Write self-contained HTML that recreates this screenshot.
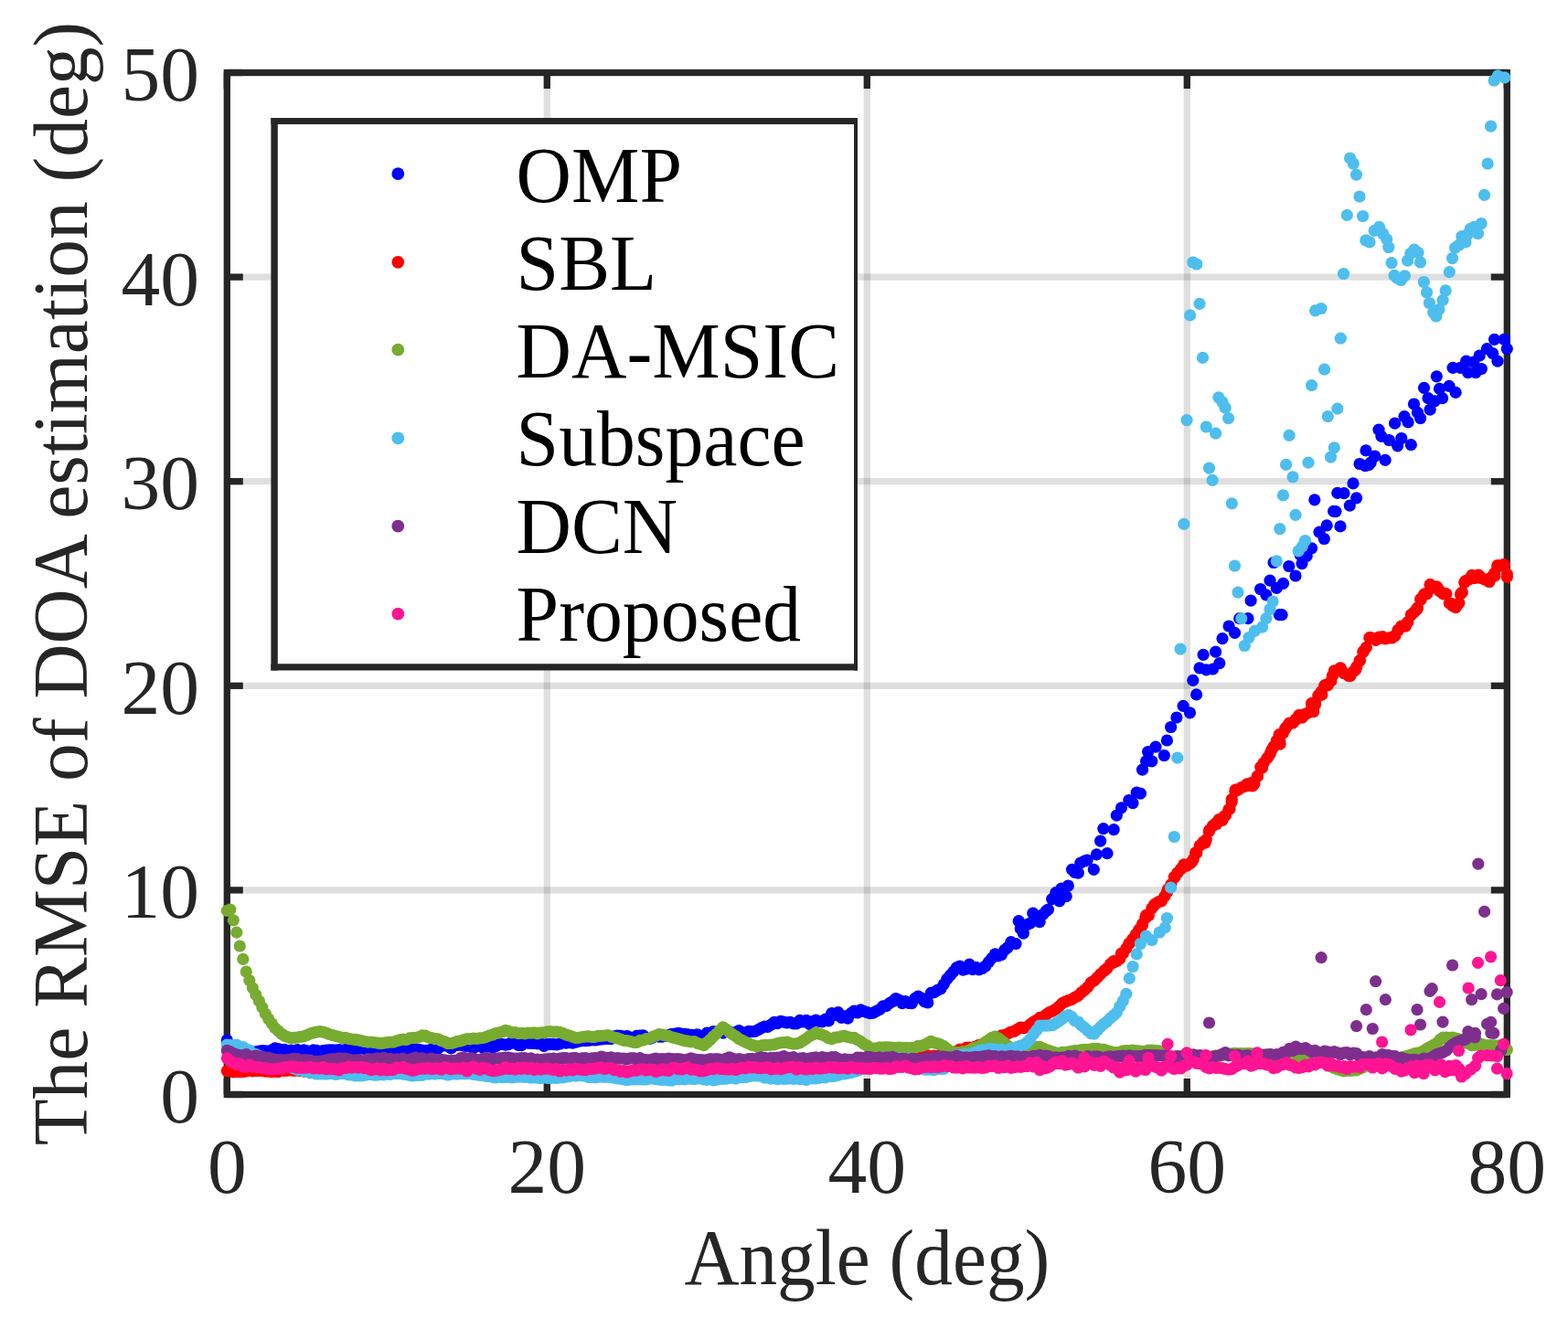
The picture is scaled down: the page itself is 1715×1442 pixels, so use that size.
<!DOCTYPE html><html><head><meta charset="utf-8"><style>html,body{margin:0;padding:0;background:#fff;overflow:hidden}svg{display:block}text{font-family:'Liberation Serif','Times New Roman',serif}</style></head><body>
<svg width="1715" height="1442" viewBox="0 0 1715 1442">
<rect width="1715" height="1442" fill="#fff"/>
<g stroke="#262626" stroke-opacity="0.15" stroke-width="7.3" fill="none"><path d="M598.30 79.50V1197.50"/><path d="M948.30 79.50V1197.50"/><path d="M1298.30 79.50V1197.50"/><path d="M248.30 973.90H1648.30"/><path d="M248.30 750.30H1648.30"/><path d="M248.30 526.70H1648.30"/><path d="M248.30 303.10H1648.30"/></g>
<g stroke="#262626" stroke-width="7.3" fill="none" stroke-linecap="butt"><path d="M248.30 1197.50v-17.5"/><path d="M248.30 79.50v17.5"/><path d="M598.30 1197.50v-17.5"/><path d="M598.30 79.50v17.5"/><path d="M948.30 1197.50v-17.5"/><path d="M948.30 79.50v17.5"/><path d="M1298.30 1197.50v-17.5"/><path d="M1298.30 79.50v17.5"/><path d="M1648.30 1197.50v-17.5"/><path d="M1648.30 79.50v17.5"/><path d="M248.30 1197.50h17.5"/><path d="M1648.30 1197.50h-17.5"/><path d="M248.30 973.90h17.5"/><path d="M1648.30 973.90h-17.5"/><path d="M248.30 750.30h17.5"/><path d="M1648.30 750.30h-17.5"/><path d="M248.30 526.70h17.5"/><path d="M1648.30 526.70h-17.5"/><path d="M248.30 303.10h17.5"/><path d="M1648.30 303.10h-17.5"/><path d="M248.30 79.50h17.5"/><path d="M1648.30 79.50h-17.5"/><rect x="248.30" y="79.50" width="1400.00" height="1118.00" stroke-linejoin="miter"/></g>
<g fill="#0000ff"><circle cx="1116.3" cy="1016.1" r="6.6"/><circle cx="1123.3" cy="1011.7" r="6.6"/><circle cx="1126.8" cy="1010.0" r="6.6"/><circle cx="1133.8" cy="1002.2" r="6.6"/><circle cx="1140.8" cy="1000.4" r="6.6"/><circle cx="1144.3" cy="996.7" r="6.6"/><circle cx="1154.8" cy="976.6" r="6.6"/><circle cx="1179.3" cy="955.1" r="6.6"/><circle cx="1186.3" cy="942.0" r="6.6"/><circle cx="248.3" cy="1138.0" r="6.6"/><circle cx="251.8" cy="1146.1" r="6.6"/><circle cx="255.3" cy="1149.0" r="6.6"/><circle cx="258.8" cy="1151.3" r="6.6"/><circle cx="262.3" cy="1150.0" r="6.6"/><circle cx="265.8" cy="1153.4" r="6.6"/><circle cx="269.3" cy="1153.0" r="6.6"/><circle cx="272.8" cy="1151.7" r="6.6"/><circle cx="276.3" cy="1151.1" r="6.6"/><circle cx="279.8" cy="1150.8" r="6.6"/><circle cx="283.3" cy="1150.0" r="6.6"/><circle cx="286.8" cy="1149.5" r="6.6"/><circle cx="290.3" cy="1149.9" r="6.6"/><circle cx="293.8" cy="1150.2" r="6.6"/><circle cx="297.3" cy="1148.8" r="6.6"/><circle cx="300.8" cy="1146.8" r="6.6"/><circle cx="304.3" cy="1147.7" r="6.6"/><circle cx="307.8" cy="1148.5" r="6.6"/><circle cx="311.3" cy="1148.4" r="6.6"/><circle cx="314.8" cy="1150.1" r="6.6"/><circle cx="318.3" cy="1149.2" r="6.6"/><circle cx="321.8" cy="1150.4" r="6.6"/><circle cx="325.3" cy="1148.6" r="6.6"/><circle cx="328.8" cy="1150.9" r="6.6"/><circle cx="332.3" cy="1148.8" r="6.6"/><circle cx="335.8" cy="1149.9" r="6.6"/><circle cx="339.3" cy="1150.7" r="6.6"/><circle cx="342.8" cy="1148.8" r="6.6"/><circle cx="346.3" cy="1149.4" r="6.6"/><circle cx="349.8" cy="1150.4" r="6.6"/><circle cx="353.3" cy="1149.7" r="6.6"/><circle cx="356.8" cy="1149.2" r="6.6"/><circle cx="360.3" cy="1148.8" r="6.6"/><circle cx="363.8" cy="1148.8" r="6.6"/><circle cx="367.3" cy="1149.2" r="6.6"/><circle cx="370.8" cy="1148.5" r="6.6"/><circle cx="374.3" cy="1149.2" r="6.6"/><circle cx="377.8" cy="1148.7" r="6.6"/><circle cx="381.3" cy="1148.3" r="6.6"/><circle cx="384.8" cy="1149.1" r="6.6"/><circle cx="388.3" cy="1150.9" r="6.6"/><circle cx="391.8" cy="1147.4" r="6.6"/><circle cx="395.3" cy="1146.8" r="6.6"/><circle cx="398.8" cy="1147.5" r="6.6"/><circle cx="402.3" cy="1146.7" r="6.6"/><circle cx="405.8" cy="1144.9" r="6.6"/><circle cx="409.3" cy="1149.2" r="6.6"/><circle cx="412.8" cy="1147.3" r="6.6"/><circle cx="416.3" cy="1146.6" r="6.6"/><circle cx="419.8" cy="1150.0" r="6.6"/><circle cx="423.3" cy="1149.2" r="6.6"/><circle cx="426.8" cy="1147.8" r="6.6"/><circle cx="430.3" cy="1150.1" r="6.6"/><circle cx="433.8" cy="1148.4" r="6.6"/><circle cx="437.3" cy="1148.8" r="6.6"/><circle cx="440.8" cy="1150.4" r="6.6"/><circle cx="444.3" cy="1149.0" r="6.6"/><circle cx="447.8" cy="1147.5" r="6.6"/><circle cx="451.3" cy="1147.3" r="6.6"/><circle cx="454.8" cy="1147.9" r="6.6"/><circle cx="458.3" cy="1148.4" r="6.6"/><circle cx="461.8" cy="1149.0" r="6.6"/><circle cx="465.3" cy="1149.4" r="6.6"/><circle cx="468.8" cy="1149.0" r="6.6"/><circle cx="472.3" cy="1148.2" r="6.6"/><circle cx="475.8" cy="1147.1" r="6.6"/><circle cx="479.3" cy="1147.1" r="6.6"/><circle cx="482.8" cy="1143.3" r="6.6"/><circle cx="486.3" cy="1143.8" r="6.6"/><circle cx="489.8" cy="1143.8" r="6.6"/><circle cx="493.3" cy="1146.9" r="6.6"/><circle cx="496.8" cy="1143.6" r="6.6"/><circle cx="500.3" cy="1143.4" r="6.6"/><circle cx="503.8" cy="1143.1" r="6.6"/><circle cx="507.3" cy="1144.2" r="6.6"/><circle cx="510.8" cy="1144.3" r="6.6"/><circle cx="514.3" cy="1143.6" r="6.6"/><circle cx="517.8" cy="1146.9" r="6.6"/><circle cx="521.3" cy="1143.5" r="6.6"/><circle cx="524.8" cy="1144.2" r="6.6"/><circle cx="528.3" cy="1146.3" r="6.6"/><circle cx="531.8" cy="1144.7" r="6.6"/><circle cx="535.3" cy="1142.7" r="6.6"/><circle cx="538.8" cy="1145.8" r="6.6"/><circle cx="542.3" cy="1144.6" r="6.6"/><circle cx="545.8" cy="1142.5" r="6.6"/><circle cx="549.3" cy="1142.5" r="6.6"/><circle cx="552.8" cy="1143.2" r="6.6"/><circle cx="556.3" cy="1142.6" r="6.6"/><circle cx="559.8" cy="1140.5" r="6.6"/><circle cx="563.3" cy="1141.1" r="6.6"/><circle cx="566.8" cy="1143.3" r="6.6"/><circle cx="570.3" cy="1143.7" r="6.6"/><circle cx="573.8" cy="1140.6" r="6.6"/><circle cx="577.3" cy="1141.2" r="6.6"/><circle cx="580.8" cy="1141.4" r="6.6"/><circle cx="584.3" cy="1141.4" r="6.6"/><circle cx="587.8" cy="1141.9" r="6.6"/><circle cx="591.3" cy="1141.5" r="6.6"/><circle cx="594.8" cy="1144.3" r="6.6"/><circle cx="598.3" cy="1142.6" r="6.6"/><circle cx="601.8" cy="1142.4" r="6.6"/><circle cx="605.3" cy="1142.7" r="6.6"/><circle cx="608.8" cy="1142.8" r="6.6"/><circle cx="612.3" cy="1142.0" r="6.6"/><circle cx="615.8" cy="1140.6" r="6.6"/><circle cx="619.3" cy="1141.1" r="6.6"/><circle cx="622.8" cy="1140.7" r="6.6"/><circle cx="626.3" cy="1141.2" r="6.6"/><circle cx="629.8" cy="1140.2" r="6.6"/><circle cx="633.3" cy="1139.1" r="6.6"/><circle cx="636.8" cy="1138.6" r="6.6"/><circle cx="640.3" cy="1138.6" r="6.6"/><circle cx="643.8" cy="1138.3" r="6.6"/><circle cx="647.3" cy="1137.7" r="6.6"/><circle cx="650.8" cy="1138.0" r="6.6"/><circle cx="654.3" cy="1137.4" r="6.6"/><circle cx="657.8" cy="1137.0" r="6.6"/><circle cx="661.3" cy="1136.5" r="6.6"/><circle cx="664.8" cy="1136.3" r="6.6"/><circle cx="668.3" cy="1136.6" r="6.6"/><circle cx="671.8" cy="1133.9" r="6.6"/><circle cx="675.3" cy="1133.0" r="6.6"/><circle cx="678.8" cy="1133.4" r="6.6"/><circle cx="682.3" cy="1134.2" r="6.6"/><circle cx="685.8" cy="1133.5" r="6.6"/><circle cx="689.3" cy="1135.0" r="6.6"/><circle cx="692.8" cy="1135.8" r="6.6"/><circle cx="696.3" cy="1133.4" r="6.6"/><circle cx="699.8" cy="1133.1" r="6.6"/><circle cx="703.3" cy="1132.9" r="6.6"/><circle cx="706.8" cy="1135.5" r="6.6"/><circle cx="710.3" cy="1136.5" r="6.6"/><circle cx="713.8" cy="1135.1" r="6.6"/><circle cx="717.3" cy="1133.5" r="6.6"/><circle cx="720.8" cy="1134.1" r="6.6"/><circle cx="724.3" cy="1134.1" r="6.6"/><circle cx="727.8" cy="1133.5" r="6.6"/><circle cx="731.3" cy="1132.7" r="6.6"/><circle cx="734.8" cy="1131.4" r="6.6"/><circle cx="738.3" cy="1131.1" r="6.6"/><circle cx="741.8" cy="1130.4" r="6.6"/><circle cx="745.3" cy="1131.1" r="6.6"/><circle cx="748.8" cy="1131.4" r="6.6"/><circle cx="752.3" cy="1131.9" r="6.6"/><circle cx="755.8" cy="1132.3" r="6.6"/><circle cx="759.3" cy="1132.7" r="6.6"/><circle cx="762.8" cy="1131.9" r="6.6"/><circle cx="766.3" cy="1134.1" r="6.6"/><circle cx="769.8" cy="1133.0" r="6.6"/><circle cx="773.3" cy="1130.2" r="6.6"/><circle cx="776.8" cy="1130.3" r="6.6"/><circle cx="780.3" cy="1128.6" r="6.6"/><circle cx="783.8" cy="1129.1" r="6.6"/><circle cx="787.3" cy="1128.7" r="6.6"/><circle cx="790.8" cy="1130.2" r="6.6"/><circle cx="794.3" cy="1127.7" r="6.6"/><circle cx="797.8" cy="1128.9" r="6.6"/><circle cx="801.3" cy="1130.5" r="6.6"/><circle cx="804.8" cy="1129.4" r="6.6"/><circle cx="808.3" cy="1127.5" r="6.6"/><circle cx="811.8" cy="1130.0" r="6.6"/><circle cx="815.3" cy="1130.0" r="6.6"/><circle cx="818.8" cy="1128.3" r="6.6"/><circle cx="822.3" cy="1128.7" r="6.6"/><circle cx="825.8" cy="1128.3" r="6.6"/><circle cx="829.3" cy="1126.6" r="6.6"/><circle cx="832.8" cy="1124.6" r="6.6"/><circle cx="836.3" cy="1123.1" r="6.6"/><circle cx="839.8" cy="1123.3" r="6.6"/><circle cx="843.3" cy="1121.1" r="6.6"/><circle cx="846.8" cy="1118.4" r="6.6"/><circle cx="850.3" cy="1119.7" r="6.6"/><circle cx="853.8" cy="1117.3" r="6.6"/><circle cx="857.3" cy="1118.2" r="6.6"/><circle cx="860.8" cy="1119.0" r="6.6"/><circle cx="864.3" cy="1118.3" r="6.6"/><circle cx="867.8" cy="1119.8" r="6.6"/><circle cx="871.3" cy="1119.9" r="6.6"/><circle cx="874.8" cy="1116.3" r="6.6"/><circle cx="878.3" cy="1118.0" r="6.6"/><circle cx="881.8" cy="1116.3" r="6.6"/><circle cx="885.3" cy="1120.3" r="6.6"/><circle cx="888.8" cy="1117.6" r="6.6"/><circle cx="892.3" cy="1116.1" r="6.6"/><circle cx="895.8" cy="1117.3" r="6.6"/><circle cx="899.3" cy="1117.9" r="6.6"/><circle cx="902.8" cy="1115.2" r="6.6"/><circle cx="906.3" cy="1116.9" r="6.6"/><circle cx="909.8" cy="1108.5" r="6.6"/><circle cx="913.3" cy="1110.5" r="6.6"/><circle cx="916.8" cy="1107.7" r="6.6"/><circle cx="920.3" cy="1113.4" r="6.6"/><circle cx="923.8" cy="1111.9" r="6.6"/><circle cx="927.3" cy="1114.2" r="6.6"/><circle cx="930.8" cy="1108.6" r="6.6"/><circle cx="934.3" cy="1106.0" r="6.6"/><circle cx="937.8" cy="1108.0" r="6.6"/><circle cx="941.3" cy="1104.8" r="6.6"/><circle cx="944.8" cy="1106.4" r="6.6"/><circle cx="948.3" cy="1107.6" r="6.6"/><circle cx="951.8" cy="1108.7" r="6.6"/><circle cx="955.3" cy="1108.2" r="6.6"/><circle cx="958.8" cy="1106.1" r="6.6"/><circle cx="962.3" cy="1104.3" r="6.6"/><circle cx="965.8" cy="1100.9" r="6.6"/><circle cx="969.3" cy="1100.7" r="6.6"/><circle cx="972.8" cy="1097.6" r="6.6"/><circle cx="976.3" cy="1095.6" r="6.6"/><circle cx="979.8" cy="1092.5" r="6.6"/><circle cx="983.3" cy="1094.1" r="6.6"/><circle cx="986.8" cy="1097.6" r="6.6"/><circle cx="990.3" cy="1095.7" r="6.6"/><circle cx="993.8" cy="1097.4" r="6.6"/><circle cx="997.3" cy="1097.6" r="6.6"/><circle cx="1000.8" cy="1092.4" r="6.6"/><circle cx="1004.3" cy="1090.0" r="6.6"/><circle cx="1007.8" cy="1092.1" r="6.6"/><circle cx="1011.3" cy="1095.9" r="6.6"/><circle cx="1014.8" cy="1096.9" r="6.6"/><circle cx="1018.3" cy="1086.3" r="6.6"/><circle cx="1021.8" cy="1085.6" r="6.6"/><circle cx="1025.3" cy="1083.3" r="6.6"/><circle cx="1028.8" cy="1081.9" r="6.6"/><circle cx="1032.3" cy="1076.8" r="6.6"/><circle cx="1035.8" cy="1071.1" r="6.6"/><circle cx="1039.3" cy="1067.2" r="6.6"/><circle cx="1042.8" cy="1063.1" r="6.6"/><circle cx="1046.3" cy="1058.6" r="6.6"/><circle cx="1049.8" cy="1057.0" r="6.6"/><circle cx="1053.3" cy="1061.2" r="6.6"/><circle cx="1056.8" cy="1060.2" r="6.6"/><circle cx="1060.3" cy="1055.1" r="6.6"/><circle cx="1063.8" cy="1060.6" r="6.6"/><circle cx="1067.3" cy="1058.4" r="6.6"/><circle cx="1070.8" cy="1060.9" r="6.6"/><circle cx="1074.3" cy="1059.5" r="6.6"/><circle cx="1077.8" cy="1057.0" r="6.6"/><circle cx="1081.3" cy="1052.7" r="6.6"/><circle cx="1084.8" cy="1048.3" r="6.6"/><circle cx="1088.3" cy="1043.9" r="6.6"/><circle cx="1091.8" cy="1045.9" r="6.6"/><circle cx="1095.3" cy="1044.5" r="6.6"/><circle cx="1098.8" cy="1039.3" r="6.6"/><circle cx="1102.3" cy="1036.5" r="6.6"/><circle cx="1105.8" cy="1030.7" r="6.6"/><circle cx="1111.0" cy="1032.5" r="6.6"/><circle cx="1114.2" cy="1007.7" r="6.6"/><circle cx="1119.3" cy="1021.1" r="6.6"/><circle cx="1129.8" cy="999.2" r="6.6"/><circle cx="1137.1" cy="1008.6" r="6.6"/><circle cx="1146.4" cy="995.1" r="6.6"/><circle cx="1150.6" cy="983.7" r="6.6"/><circle cx="1158.8" cy="985.8" r="6.6"/><circle cx="1160.9" cy="972.1" r="6.6"/><circle cx="1166.2" cy="980.6" r="6.6"/><circle cx="1168.3" cy="969.0" r="6.6"/><circle cx="1172.5" cy="951.3" r="6.6"/><circle cx="1175.5" cy="954.4" r="6.6"/><circle cx="1181.8" cy="944.2" r="6.6"/><circle cx="1189.1" cy="941.0" r="6.6"/><circle cx="1196.3" cy="951.3" r="6.6"/><circle cx="1199.4" cy="934.8" r="6.6"/><circle cx="1203.6" cy="920.2" r="6.6"/><circle cx="1206.8" cy="906.6" r="6.6"/><circle cx="1211.0" cy="933.7" r="6.6"/><circle cx="1218.2" cy="907.7" r="6.6"/><circle cx="1221.3" cy="892.1" r="6.6"/><circle cx="1226.5" cy="883.8" r="6.6"/><circle cx="1234.8" cy="875.5" r="6.6"/><circle cx="1239.0" cy="878.6" r="6.6"/><circle cx="1243.2" cy="867.2" r="6.6"/><circle cx="1247.4" cy="868.1" r="6.6"/><circle cx="1249.5" cy="842.2" r="6.6"/><circle cx="1253.5" cy="832.8" r="6.6"/><circle cx="1255.6" cy="822.5" r="6.6"/><circle cx="1259.8" cy="832.8" r="6.6"/><circle cx="1264.0" cy="817.2" r="6.6"/><circle cx="1273.3" cy="826.5" r="6.6"/><circle cx="1276.4" cy="810.0" r="6.6"/><circle cx="1280.6" cy="795.5" r="6.6"/><circle cx="1286.9" cy="785.0" r="6.6"/><circle cx="1294.1" cy="772.4" r="6.6"/><circle cx="1301.5" cy="779.8" r="6.6"/><circle cx="1304.8" cy="744.3" r="6.6"/><circle cx="1308.6" cy="759.9" r="6.6"/><circle cx="1312.0" cy="730.8" r="6.6"/><circle cx="1316.1" cy="716.3" r="6.6"/><circle cx="1319.3" cy="732.9" r="6.6"/><circle cx="1326.5" cy="732.0" r="6.6"/><circle cx="1329.6" cy="713.2" r="6.6"/><circle cx="1333.8" cy="725.7" r="6.6"/><circle cx="1337.0" cy="698.6" r="6.6"/><circle cx="1344.1" cy="685.0" r="6.6"/><circle cx="1350.5" cy="692.4" r="6.6"/><circle cx="1355.7" cy="676.7" r="6.6"/><circle cx="1365.0" cy="676.7" r="6.6"/><circle cx="1368.1" cy="657.1" r="6.6"/><circle cx="1378.6" cy="644.5" r="6.6"/><circle cx="1384.8" cy="650.8" r="6.6"/><circle cx="1389.0" cy="635.1" r="6.6"/><circle cx="1393.1" cy="615.5" r="6.6"/><circle cx="1396.3" cy="643.4" r="6.6"/><circle cx="1399.3" cy="672.7" r="6.6"/><circle cx="1402.1" cy="672.7" r="6.6"/><circle cx="1403.5" cy="638.3" r="6.6"/><circle cx="1409.8" cy="619.5" r="6.6"/><circle cx="1417.0" cy="630.0" r="6.6"/><circle cx="1422.2" cy="607.2" r="6.6"/><circle cx="1424.0" cy="616.6" r="6.6"/><circle cx="1429.2" cy="608.3" r="6.6"/><circle cx="1434.6" cy="599.8" r="6.6"/><circle cx="1437.8" cy="546.8" r="6.6"/><circle cx="1443.0" cy="582.2" r="6.6"/><circle cx="1448.3" cy="589.5" r="6.6"/><circle cx="1451.2" cy="574.8" r="6.6"/><circle cx="1458.6" cy="559.3" r="6.6"/><circle cx="1461.0" cy="559.6" r="6.6"/><circle cx="1462.8" cy="539.4" r="6.6"/><circle cx="1466.0" cy="575.9" r="6.6"/><circle cx="1470.0" cy="539.7" r="6.6"/><circle cx="1476.3" cy="553.1" r="6.6"/><circle cx="1480.0" cy="528.9" r="6.6"/><circle cx="1483.6" cy="544.8" r="6.6"/><circle cx="1487.1" cy="507.5" r="6.6"/><circle cx="1493.2" cy="509.7" r="6.6"/><circle cx="1494.0" cy="492.9" r="6.6"/><circle cx="1497.1" cy="508.6" r="6.6"/><circle cx="1499.2" cy="506.1" r="6.6"/><circle cx="1503.8" cy="499.2" r="6.6"/><circle cx="1508.0" cy="470.1" r="6.6"/><circle cx="1510.9" cy="477.3" r="6.6"/><circle cx="1515.1" cy="503.4" r="6.6"/><circle cx="1519.3" cy="481.5" r="6.6"/><circle cx="1525.6" cy="463.2" r="6.6"/><circle cx="1528.6" cy="487.8" r="6.6"/><circle cx="1532.8" cy="479.5" r="6.6"/><circle cx="1536.0" cy="455.6" r="6.6"/><circle cx="1540.1" cy="461.9" r="6.6"/><circle cx="1543.3" cy="486.7" r="6.6"/><circle cx="1546.5" cy="442.0" r="6.6"/><circle cx="1550.5" cy="451.3" r="6.6"/><circle cx="1553.6" cy="457.6" r="6.6"/><circle cx="1557.5" cy="424.3" r="6.6"/><circle cx="1562.0" cy="435.7" r="6.6"/><circle cx="1564.1" cy="448.2" r="6.6"/><circle cx="1569.2" cy="438.8" r="6.6"/><circle cx="1571.3" cy="411.8" r="6.6"/><circle cx="1574.5" cy="425.4" r="6.6"/><circle cx="1577.6" cy="435.7" r="6.6"/><circle cx="1585.0" cy="422.3" r="6.6"/><circle cx="1589.0" cy="402.4" r="6.6"/><circle cx="1592.1" cy="429.4" r="6.6"/><circle cx="1597.4" cy="402.4" r="6.6"/><circle cx="1603.7" cy="395.2" r="6.6"/><circle cx="1605.6" cy="407.7" r="6.6"/><circle cx="1611.9" cy="396.1" r="6.6"/><circle cx="1614.0" cy="407.7" r="6.6"/><circle cx="1618.2" cy="389.0" r="6.6"/><circle cx="1620.3" cy="403.5" r="6.6"/><circle cx="1626.4" cy="381.6" r="6.6"/><circle cx="1632.7" cy="386.7" r="6.6"/><circle cx="1634.5" cy="371.3" r="6.6"/><circle cx="1638.0" cy="395.2" r="6.6"/><circle cx="1645.1" cy="371.3" r="6.6"/><circle cx="1648.3" cy="381.6" r="6.6"/></g>
<g fill="#ff0000"><circle cx="248.3" cy="1171.6" r="6.6"/><circle cx="251.8" cy="1172.0" r="6.6"/><circle cx="255.3" cy="1172.9" r="6.6"/><circle cx="258.8" cy="1172.6" r="6.6"/><circle cx="262.3" cy="1172.7" r="6.6"/><circle cx="265.8" cy="1172.5" r="6.6"/><circle cx="269.3" cy="1171.9" r="6.6"/><circle cx="272.8" cy="1170.9" r="6.6"/><circle cx="276.3" cy="1171.9" r="6.6"/><circle cx="279.8" cy="1171.6" r="6.6"/><circle cx="283.3" cy="1171.3" r="6.6"/><circle cx="286.8" cy="1171.5" r="6.6"/><circle cx="290.3" cy="1172.1" r="6.6"/><circle cx="293.8" cy="1172.2" r="6.6"/><circle cx="297.3" cy="1172.7" r="6.6"/><circle cx="300.8" cy="1172.3" r="6.6"/><circle cx="304.3" cy="1172.7" r="6.6"/><circle cx="307.8" cy="1171.2" r="6.6"/><circle cx="311.3" cy="1171.5" r="6.6"/><circle cx="314.8" cy="1171.1" r="6.6"/><circle cx="318.3" cy="1170.9" r="6.6"/><circle cx="321.8" cy="1171.3" r="6.6"/><circle cx="325.3" cy="1171.0" r="6.6"/><circle cx="328.8" cy="1171.5" r="6.6"/><circle cx="332.3" cy="1172.1" r="6.6"/><circle cx="335.8" cy="1171.7" r="6.6"/><circle cx="339.3" cy="1171.7" r="6.6"/><circle cx="342.8" cy="1172.1" r="6.6"/><circle cx="346.3" cy="1171.6" r="6.6"/><circle cx="349.8" cy="1171.1" r="6.6"/><circle cx="353.3" cy="1171.7" r="6.6"/><circle cx="356.8" cy="1171.7" r="6.6"/><circle cx="360.3" cy="1170.5" r="6.6"/><circle cx="363.8" cy="1171.3" r="6.6"/><circle cx="367.3" cy="1172.6" r="6.6"/><circle cx="370.8" cy="1171.8" r="6.6"/><circle cx="374.3" cy="1171.7" r="6.6"/><circle cx="377.8" cy="1171.7" r="6.6"/><circle cx="381.3" cy="1171.2" r="6.6"/><circle cx="384.8" cy="1171.1" r="6.6"/><circle cx="388.3" cy="1171.5" r="6.6"/><circle cx="391.8" cy="1171.3" r="6.6"/><circle cx="395.3" cy="1170.8" r="6.6"/><circle cx="398.8" cy="1171.6" r="6.6"/><circle cx="402.3" cy="1172.2" r="6.6"/><circle cx="405.8" cy="1171.7" r="6.6"/><circle cx="409.3" cy="1172.5" r="6.6"/><circle cx="412.8" cy="1172.0" r="6.6"/><circle cx="416.3" cy="1172.2" r="6.6"/><circle cx="419.8" cy="1171.4" r="6.6"/><circle cx="423.3" cy="1172.0" r="6.6"/><circle cx="426.8" cy="1172.1" r="6.6"/><circle cx="430.3" cy="1171.5" r="6.6"/><circle cx="433.8" cy="1171.6" r="6.6"/><circle cx="437.3" cy="1172.1" r="6.6"/><circle cx="440.8" cy="1171.5" r="6.6"/><circle cx="444.3" cy="1170.7" r="6.6"/><circle cx="447.8" cy="1170.9" r="6.6"/><circle cx="451.3" cy="1170.2" r="6.6"/><circle cx="454.8" cy="1171.1" r="6.6"/><circle cx="458.3" cy="1171.1" r="6.6"/><circle cx="461.8" cy="1172.3" r="6.6"/><circle cx="465.3" cy="1170.7" r="6.6"/><circle cx="468.8" cy="1172.5" r="6.6"/><circle cx="472.3" cy="1171.9" r="6.6"/><circle cx="475.8" cy="1171.5" r="6.6"/><circle cx="479.3" cy="1172.3" r="6.6"/><circle cx="482.8" cy="1172.0" r="6.6"/><circle cx="486.3" cy="1172.2" r="6.6"/><circle cx="489.8" cy="1172.9" r="6.6"/><circle cx="493.3" cy="1172.7" r="6.6"/><circle cx="496.8" cy="1172.1" r="6.6"/><circle cx="500.3" cy="1172.8" r="6.6"/><circle cx="503.8" cy="1171.5" r="6.6"/><circle cx="507.3" cy="1172.3" r="6.6"/><circle cx="510.8" cy="1172.0" r="6.6"/><circle cx="514.3" cy="1172.4" r="6.6"/><circle cx="517.8" cy="1172.0" r="6.6"/><circle cx="521.3" cy="1172.4" r="6.6"/><circle cx="524.8" cy="1171.7" r="6.6"/><circle cx="528.3" cy="1172.2" r="6.6"/><circle cx="531.8" cy="1171.7" r="6.6"/><circle cx="535.3" cy="1172.1" r="6.6"/><circle cx="538.8" cy="1172.1" r="6.6"/><circle cx="542.3" cy="1171.2" r="6.6"/><circle cx="545.8" cy="1171.4" r="6.6"/><circle cx="549.3" cy="1171.4" r="6.6"/><circle cx="552.8" cy="1171.9" r="6.6"/><circle cx="556.3" cy="1171.9" r="6.6"/><circle cx="559.8" cy="1172.2" r="6.6"/><circle cx="563.3" cy="1172.2" r="6.6"/><circle cx="566.8" cy="1172.3" r="6.6"/><circle cx="570.3" cy="1172.0" r="6.6"/><circle cx="573.8" cy="1171.9" r="6.6"/><circle cx="577.3" cy="1170.7" r="6.6"/><circle cx="580.8" cy="1171.4" r="6.6"/><circle cx="584.3" cy="1171.5" r="6.6"/><circle cx="587.8" cy="1170.5" r="6.6"/><circle cx="591.3" cy="1171.4" r="6.6"/><circle cx="594.8" cy="1172.1" r="6.6"/><circle cx="598.3" cy="1172.0" r="6.6"/><circle cx="601.8" cy="1171.9" r="6.6"/><circle cx="605.3" cy="1172.2" r="6.6"/><circle cx="608.8" cy="1171.9" r="6.6"/><circle cx="612.3" cy="1172.2" r="6.6"/><circle cx="615.8" cy="1171.7" r="6.6"/><circle cx="619.3" cy="1171.6" r="6.6"/><circle cx="622.8" cy="1172.6" r="6.6"/><circle cx="626.3" cy="1172.2" r="6.6"/><circle cx="629.8" cy="1172.6" r="6.6"/><circle cx="633.3" cy="1172.9" r="6.6"/><circle cx="636.8" cy="1173.0" r="6.6"/><circle cx="640.3" cy="1172.2" r="6.6"/><circle cx="643.8" cy="1172.9" r="6.6"/><circle cx="647.3" cy="1172.3" r="6.6"/><circle cx="650.8" cy="1172.3" r="6.6"/><circle cx="654.3" cy="1170.9" r="6.6"/><circle cx="657.8" cy="1171.9" r="6.6"/><circle cx="661.3" cy="1171.2" r="6.6"/><circle cx="664.8" cy="1172.4" r="6.6"/><circle cx="668.3" cy="1172.1" r="6.6"/><circle cx="671.8" cy="1171.6" r="6.6"/><circle cx="675.3" cy="1173.4" r="6.6"/><circle cx="678.8" cy="1172.7" r="6.6"/><circle cx="682.3" cy="1171.9" r="6.6"/><circle cx="685.8" cy="1172.3" r="6.6"/><circle cx="689.3" cy="1172.5" r="6.6"/><circle cx="692.8" cy="1170.9" r="6.6"/><circle cx="696.3" cy="1171.8" r="6.6"/><circle cx="699.8" cy="1172.5" r="6.6"/><circle cx="703.3" cy="1171.5" r="6.6"/><circle cx="706.8" cy="1172.1" r="6.6"/><circle cx="710.3" cy="1171.6" r="6.6"/><circle cx="713.8" cy="1171.8" r="6.6"/><circle cx="717.3" cy="1171.8" r="6.6"/><circle cx="720.8" cy="1171.4" r="6.6"/><circle cx="724.3" cy="1172.2" r="6.6"/><circle cx="727.8" cy="1173.2" r="6.6"/><circle cx="731.3" cy="1173.2" r="6.6"/><circle cx="734.8" cy="1171.8" r="6.6"/><circle cx="738.3" cy="1172.4" r="6.6"/><circle cx="741.8" cy="1172.8" r="6.6"/><circle cx="745.3" cy="1171.8" r="6.6"/><circle cx="748.8" cy="1172.2" r="6.6"/><circle cx="752.3" cy="1172.3" r="6.6"/><circle cx="755.8" cy="1173.2" r="6.6"/><circle cx="759.3" cy="1172.8" r="6.6"/><circle cx="762.8" cy="1172.0" r="6.6"/><circle cx="766.3" cy="1172.3" r="6.6"/><circle cx="769.8" cy="1172.6" r="6.6"/><circle cx="773.3" cy="1173.7" r="6.6"/><circle cx="776.8" cy="1173.0" r="6.6"/><circle cx="780.3" cy="1173.2" r="6.6"/><circle cx="783.8" cy="1171.8" r="6.6"/><circle cx="787.3" cy="1172.6" r="6.6"/><circle cx="790.8" cy="1171.9" r="6.6"/><circle cx="794.3" cy="1170.9" r="6.6"/><circle cx="797.8" cy="1170.8" r="6.6"/><circle cx="801.3" cy="1171.8" r="6.6"/><circle cx="804.8" cy="1171.2" r="6.6"/><circle cx="808.3" cy="1171.7" r="6.6"/><circle cx="811.8" cy="1172.1" r="6.6"/><circle cx="815.3" cy="1172.5" r="6.6"/><circle cx="818.8" cy="1171.9" r="6.6"/><circle cx="822.3" cy="1172.2" r="6.6"/><circle cx="825.8" cy="1173.0" r="6.6"/><circle cx="829.3" cy="1171.8" r="6.6"/><circle cx="832.8" cy="1171.9" r="6.6"/><circle cx="836.3" cy="1172.1" r="6.6"/><circle cx="839.8" cy="1171.8" r="6.6"/><circle cx="843.3" cy="1171.2" r="6.6"/><circle cx="846.8" cy="1171.9" r="6.6"/><circle cx="850.3" cy="1171.1" r="6.6"/><circle cx="853.8" cy="1170.6" r="6.6"/><circle cx="857.3" cy="1170.6" r="6.6"/><circle cx="860.8" cy="1170.6" r="6.6"/><circle cx="864.3" cy="1171.3" r="6.6"/><circle cx="867.8" cy="1170.4" r="6.6"/><circle cx="871.3" cy="1170.8" r="6.6"/><circle cx="874.8" cy="1170.4" r="6.6"/><circle cx="878.3" cy="1170.7" r="6.6"/><circle cx="881.8" cy="1170.3" r="6.6"/><circle cx="885.3" cy="1170.5" r="6.6"/><circle cx="888.8" cy="1171.2" r="6.6"/><circle cx="892.3" cy="1171.4" r="6.6"/><circle cx="895.8" cy="1171.4" r="6.6"/><circle cx="899.3" cy="1171.0" r="6.6"/><circle cx="902.8" cy="1171.3" r="6.6"/><circle cx="906.3" cy="1170.6" r="6.6"/><circle cx="909.8" cy="1171.1" r="6.6"/><circle cx="913.3" cy="1169.9" r="6.6"/><circle cx="916.8" cy="1170.5" r="6.6"/><circle cx="920.3" cy="1169.3" r="6.6"/><circle cx="923.8" cy="1168.3" r="6.6"/><circle cx="927.3" cy="1168.7" r="6.6"/><circle cx="930.8" cy="1168.7" r="6.6"/><circle cx="934.3" cy="1168.5" r="6.6"/><circle cx="937.8" cy="1168.6" r="6.6"/><circle cx="941.3" cy="1168.9" r="6.6"/><circle cx="944.8" cy="1168.0" r="6.6"/><circle cx="948.3" cy="1167.7" r="6.6"/><circle cx="951.8" cy="1167.0" r="6.6"/><circle cx="955.3" cy="1166.3" r="6.6"/><circle cx="958.8" cy="1165.5" r="6.6"/><circle cx="962.3" cy="1164.8" r="6.6"/><circle cx="965.8" cy="1164.4" r="6.6"/><circle cx="969.3" cy="1163.5" r="6.6"/><circle cx="972.8" cy="1163.4" r="6.6"/><circle cx="976.3" cy="1162.9" r="6.6"/><circle cx="979.8" cy="1163.0" r="6.6"/><circle cx="983.3" cy="1162.1" r="6.6"/><circle cx="986.8" cy="1162.5" r="6.6"/><circle cx="990.3" cy="1162.9" r="6.6"/><circle cx="993.8" cy="1161.5" r="6.6"/><circle cx="997.3" cy="1160.6" r="6.6"/><circle cx="1000.8" cy="1160.5" r="6.6"/><circle cx="1004.3" cy="1158.3" r="6.6"/><circle cx="1007.8" cy="1156.8" r="6.6"/><circle cx="1011.3" cy="1156.5" r="6.6"/><circle cx="1014.8" cy="1154.9" r="6.6"/><circle cx="1018.3" cy="1156.3" r="6.6"/><circle cx="1021.8" cy="1155.0" r="6.6"/><circle cx="1025.3" cy="1155.3" r="6.6"/><circle cx="1028.8" cy="1153.6" r="6.6"/><circle cx="1032.3" cy="1153.4" r="6.6"/><circle cx="1035.8" cy="1154.6" r="6.6"/><circle cx="1039.3" cy="1153.4" r="6.6"/><circle cx="1042.8" cy="1151.7" r="6.6"/><circle cx="1046.3" cy="1150.4" r="6.6"/><circle cx="1049.8" cy="1148.1" r="6.6"/><circle cx="1053.3" cy="1148.6" r="6.6"/><circle cx="1056.8" cy="1146.4" r="6.6"/><circle cx="1060.3" cy="1146.2" r="6.6"/><circle cx="1063.8" cy="1146.2" r="6.6"/><circle cx="1067.3" cy="1145.1" r="6.6"/><circle cx="1070.8" cy="1143.3" r="6.6"/><circle cx="1074.3" cy="1142.5" r="6.6"/><circle cx="1077.8" cy="1140.6" r="6.6"/><circle cx="1081.3" cy="1139.0" r="6.6"/><circle cx="1084.8" cy="1138.4" r="6.6"/><circle cx="1088.3" cy="1136.2" r="6.6"/><circle cx="1091.8" cy="1134.5" r="6.6"/><circle cx="1095.3" cy="1132.9" r="6.6"/><circle cx="1098.8" cy="1132.8" r="6.6"/><circle cx="1102.3" cy="1130.8" r="6.6"/><circle cx="1105.8" cy="1129.0" r="6.6"/><circle cx="1109.3" cy="1128.3" r="6.6"/><circle cx="1112.8" cy="1126.2" r="6.6"/><circle cx="1116.3" cy="1124.0" r="6.6"/><circle cx="1119.8" cy="1124.8" r="6.6"/><circle cx="1123.3" cy="1123.5" r="6.6"/><circle cx="1126.8" cy="1120.6" r="6.6"/><circle cx="1130.3" cy="1118.1" r="6.6"/><circle cx="1133.8" cy="1116.1" r="6.6"/><circle cx="1137.3" cy="1113.4" r="6.6"/><circle cx="1140.8" cy="1112.6" r="6.6"/><circle cx="1144.3" cy="1110.2" r="6.6"/><circle cx="1147.8" cy="1107.5" r="6.6"/><circle cx="1151.3" cy="1106.1" r="6.6"/><circle cx="1154.8" cy="1104.0" r="6.6"/><circle cx="1158.3" cy="1101.1" r="6.6"/><circle cx="1161.8" cy="1097.6" r="6.6"/><circle cx="1165.3" cy="1095.9" r="6.6"/><circle cx="1168.8" cy="1094.7" r="6.6"/><circle cx="1172.3" cy="1093.4" r="6.6"/><circle cx="1175.8" cy="1091.0" r="6.6"/><circle cx="1179.3" cy="1089.3" r="6.6"/><circle cx="1182.8" cy="1085.8" r="6.6"/><circle cx="1186.3" cy="1083.2" r="6.6"/><circle cx="1189.8" cy="1079.8" r="6.6"/><circle cx="1193.3" cy="1075.0" r="6.6"/><circle cx="1196.8" cy="1072.8" r="6.6"/><circle cx="1200.3" cy="1069.4" r="6.6"/><circle cx="1203.8" cy="1065.6" r="6.6"/><circle cx="1210.8" cy="1059.5" r="6.6"/><circle cx="1214.3" cy="1054.8" r="6.6"/><circle cx="1217.8" cy="1053.1" r="6.6"/><circle cx="1221.3" cy="1051.7" r="6.6"/><circle cx="1224.8" cy="1048.9" r="6.6"/><circle cx="1228.3" cy="1043.2" r="6.6"/><circle cx="1231.8" cy="1037.7" r="6.6"/><circle cx="1235.3" cy="1031.9" r="6.6"/><circle cx="1238.8" cy="1027.5" r="6.6"/><circle cx="1242.3" cy="1022.3" r="6.6"/><circle cx="1245.8" cy="1017.2" r="6.6"/><circle cx="1249.3" cy="1012.5" r="6.6"/><circle cx="1252.8" cy="1004.3" r="6.6"/><circle cx="1256.3" cy="1001.7" r="6.6"/><circle cx="1259.8" cy="993.8" r="6.6"/><circle cx="1263.3" cy="989.2" r="6.6"/><circle cx="1266.8" cy="986.9" r="6.6"/><circle cx="1270.3" cy="985.7" r="6.6"/><circle cx="1273.8" cy="980.6" r="6.6"/><circle cx="1277.3" cy="973.0" r="6.6"/><circle cx="1280.8" cy="967.7" r="6.6"/><circle cx="1284.3" cy="959.5" r="6.6"/><circle cx="1287.8" cy="955.0" r="6.6"/><circle cx="1291.3" cy="951.2" r="6.6"/><circle cx="1294.8" cy="945.9" r="6.6"/><circle cx="1298.3" cy="947.2" r="6.6"/><circle cx="1301.8" cy="944.7" r="6.6"/><circle cx="1305.3" cy="940.0" r="6.6"/><circle cx="1308.8" cy="933.0" r="6.6"/><circle cx="1312.3" cy="925.2" r="6.6"/><circle cx="1315.8" cy="921.4" r="6.6"/><circle cx="1319.3" cy="918.6" r="6.6"/><circle cx="1322.8" cy="908.2" r="6.6"/><circle cx="1326.3" cy="903.6" r="6.6"/><circle cx="1329.8" cy="900.7" r="6.6"/><circle cx="1333.3" cy="896.5" r="6.6"/><circle cx="1336.8" cy="897.5" r="6.6"/><circle cx="1340.3" cy="892.4" r="6.6"/><circle cx="1343.8" cy="885.8" r="6.6"/><circle cx="1347.3" cy="874.4" r="6.6"/><circle cx="1350.8" cy="865.6" r="6.6"/><circle cx="1354.3" cy="864.1" r="6.6"/><circle cx="1357.8" cy="861.5" r="6.6"/><circle cx="1361.3" cy="860.3" r="6.6"/><circle cx="1364.8" cy="859.7" r="6.6"/><circle cx="1368.3" cy="856.6" r="6.6"/><circle cx="1371.8" cy="857.5" r="6.6"/><circle cx="1375.3" cy="849.3" r="6.6"/><circle cx="1378.8" cy="839.2" r="6.6"/><circle cx="1382.3" cy="834.5" r="6.6"/><circle cx="1385.8" cy="829.6" r="6.6"/><circle cx="1389.3" cy="824.5" r="6.6"/><circle cx="1392.8" cy="817.0" r="6.6"/><circle cx="1396.3" cy="810.3" r="6.6"/><circle cx="1399.8" cy="811.0" r="6.6"/><circle cx="1403.3" cy="802.0" r="6.6"/><circle cx="1406.8" cy="795.7" r="6.6"/><circle cx="1410.3" cy="791.1" r="6.6"/><circle cx="1413.8" cy="791.0" r="6.6"/><circle cx="1417.3" cy="786.9" r="6.6"/><circle cx="1420.8" cy="782.3" r="6.6"/><circle cx="1424.3" cy="785.1" r="6.6"/><circle cx="1427.8" cy="781.3" r="6.6"/><circle cx="1431.3" cy="779.3" r="6.6"/><circle cx="1434.8" cy="771.1" r="6.6"/><circle cx="1438.3" cy="771.0" r="6.6"/><circle cx="1441.8" cy="761.1" r="6.6"/><circle cx="1445.3" cy="756.5" r="6.6"/><circle cx="1448.8" cy="750.1" r="6.6"/><circle cx="1452.3" cy="748.6" r="6.6"/><circle cx="1455.8" cy="745.2" r="6.6"/><circle cx="1459.3" cy="733.9" r="6.6"/><circle cx="1462.8" cy="733.8" r="6.6"/><circle cx="1466.3" cy="731.2" r="6.6"/><circle cx="1469.8" cy="736.5" r="6.6"/><circle cx="1473.3" cy="737.9" r="6.6"/><circle cx="1476.8" cy="739.7" r="6.6"/><circle cx="1480.3" cy="734.6" r="6.6"/><circle cx="1483.8" cy="729.4" r="6.6"/><circle cx="1487.3" cy="722.7" r="6.6"/><circle cx="1490.8" cy="713.5" r="6.6"/><circle cx="1494.3" cy="708.4" r="6.6"/><circle cx="1497.8" cy="697.7" r="6.6"/><circle cx="1501.3" cy="698.6" r="6.6"/><circle cx="1504.8" cy="700.4" r="6.6"/><circle cx="1508.3" cy="697.2" r="6.6"/><circle cx="1511.8" cy="698.0" r="6.6"/><circle cx="1515.3" cy="698.8" r="6.6"/><circle cx="1518.8" cy="698.0" r="6.6"/><circle cx="1522.3" cy="697.2" r="6.6"/><circle cx="1525.8" cy="695.7" r="6.6"/><circle cx="1529.3" cy="689.5" r="6.6"/><circle cx="1532.8" cy="685.0" r="6.6"/><circle cx="1536.3" cy="684.5" r="6.6"/><circle cx="1539.8" cy="680.5" r="6.6"/><circle cx="1543.3" cy="672.8" r="6.6"/><circle cx="1546.8" cy="669.6" r="6.6"/><circle cx="1550.3" cy="665.2" r="6.6"/><circle cx="1553.8" cy="655.3" r="6.6"/><circle cx="1557.3" cy="651.2" r="6.6"/><circle cx="1560.8" cy="649.5" r="6.6"/><circle cx="1564.3" cy="639.7" r="6.6"/><circle cx="1567.8" cy="642.9" r="6.6"/><circle cx="1571.3" cy="641.8" r="6.6"/><circle cx="1574.8" cy="646.9" r="6.6"/><circle cx="1578.3" cy="649.1" r="6.6"/><circle cx="1581.8" cy="649.7" r="6.6"/><circle cx="1585.3" cy="659.9" r="6.6"/><circle cx="1588.8" cy="662.9" r="6.6"/><circle cx="1592.3" cy="664.6" r="6.6"/><circle cx="1595.8" cy="659.6" r="6.6"/><circle cx="1599.3" cy="648.0" r="6.6"/><circle cx="1602.8" cy="635.7" r="6.6"/><circle cx="1606.3" cy="634.0" r="6.6"/><circle cx="1609.8" cy="632.7" r="6.6"/><circle cx="1613.3" cy="632.4" r="6.6"/><circle cx="1616.8" cy="629.0" r="6.6"/><circle cx="1620.3" cy="632.7" r="6.6"/><circle cx="1623.8" cy="633.8" r="6.6"/><circle cx="1627.3" cy="634.6" r="6.6"/><circle cx="1630.8" cy="632.0" r="6.6"/><circle cx="1634.3" cy="627.3" r="6.6"/><circle cx="1637.8" cy="618.7" r="6.6"/><circle cx="1641.3" cy="618.8" r="6.6"/><circle cx="1644.8" cy="617.7" r="6.6"/><circle cx="1648.3" cy="628.1" r="6.6"/><circle cx="1207.8" cy="1062.0" r="6.6"/><circle cx="1218.2" cy="1051.5" r="6.6"/><circle cx="1226.5" cy="1043.2" r="6.6"/><circle cx="1234.8" cy="1032.5" r="6.6"/><circle cx="1243.2" cy="1022.2" r="6.6"/><circle cx="1249.5" cy="1010.8" r="6.6"/><circle cx="1253.5" cy="1001.4" r="6.6"/><circle cx="1261.9" cy="990.9" r="6.6"/><circle cx="1270.1" cy="985.8" r="6.6"/><circle cx="1276.4" cy="976.4" r="6.6"/><circle cx="1284.8" cy="959.8" r="6.6"/><circle cx="1293.0" cy="949.3" r="6.6"/><circle cx="1303.5" cy="943.0" r="6.6"/><circle cx="1307.6" cy="932.8" r="6.6"/><circle cx="1318.1" cy="922.2" r="6.6"/><circle cx="1322.3" cy="909.7" r="6.6"/><circle cx="1330.5" cy="901.5" r="6.6"/><circle cx="1338.9" cy="893.2" r="6.6"/><circle cx="1345.0" cy="884.9" r="6.6"/><circle cx="1347.1" cy="877.5" r="6.6"/><circle cx="1351.3" cy="864.1" r="6.6"/><circle cx="1363.8" cy="857.9" r="6.6"/><circle cx="1370.0" cy="859.9" r="6.6"/><circle cx="1375.3" cy="849.4" r="6.6"/><circle cx="1380.4" cy="840.2" r="6.6"/><circle cx="1386.7" cy="828.6" r="6.6"/><circle cx="1390.9" cy="820.3" r="6.6"/><circle cx="1397.2" cy="812.0" r="6.6"/><circle cx="1399.1" cy="803.7" r="6.6"/><circle cx="1400.0" cy="814.2" r="6.6"/><circle cx="1405.6" cy="797.5" r="6.6"/><circle cx="1409.6" cy="792.3" r="6.6"/><circle cx="1414.5" cy="790.3" r="6.6"/><circle cx="1418.0" cy="787.0" r="6.6"/><circle cx="1422.9" cy="782.9" r="6.6"/><circle cx="1426.4" cy="781.8" r="6.6"/><circle cx="1433.2" cy="778.9" r="6.6"/><circle cx="1434.6" cy="769.3" r="6.6"/><circle cx="1436.7" cy="778.7" r="6.6"/><circle cx="1438.5" cy="769.5" r="6.6"/><circle cx="1443.0" cy="759.9" r="6.6"/><circle cx="1445.8" cy="760.1" r="6.6"/><circle cx="1449.3" cy="749.6" r="6.6"/><circle cx="1452.0" cy="749.9" r="6.6"/><circle cx="1457.5" cy="739.1" r="6.6"/><circle cx="1466.0" cy="730.8" r="6.6"/><circle cx="1474.9" cy="739.3" r="6.6"/><circle cx="1482.6" cy="732.9" r="6.6"/><circle cx="1487.3" cy="722.8" r="6.6"/><circle cx="1491.5" cy="712.3" r="6.6"/><circle cx="1499.2" cy="697.5" r="6.6"/><circle cx="1512.3" cy="696.6" r="6.6"/><circle cx="1522.6" cy="697.8" r="6.6"/><circle cx="1529.0" cy="689.5" r="6.6"/><circle cx="1537.3" cy="685.2" r="6.6"/><circle cx="1543.5" cy="672.7" r="6.6"/><circle cx="1549.8" cy="666.5" r="6.6"/><circle cx="1554.0" cy="656.2" r="6.6"/><circle cx="1558.0" cy="649.9" r="6.6"/><circle cx="1564.1" cy="639.6" r="6.6"/><circle cx="1572.7" cy="643.6" r="6.6"/><circle cx="1578.8" cy="649.9" r="6.6"/><circle cx="1587.2" cy="660.4" r="6.6"/><circle cx="1593.5" cy="662.4" r="6.6"/><circle cx="1597.5" cy="649.9" r="6.6"/><circle cx="1601.8" cy="637.4" r="6.6"/><circle cx="1609.8" cy="629.3" r="6.6"/><circle cx="1618.2" cy="630.2" r="6.6"/><circle cx="1626.4" cy="634.5" r="6.6"/><circle cx="1628.9" cy="636.5" r="6.6"/><circle cx="1634.8" cy="630.2" r="6.6"/><circle cx="1638.0" cy="619.9" r="6.6"/><circle cx="1645.1" cy="617.9" r="6.6"/><circle cx="1648.3" cy="631.3" r="6.6"/></g>
<g fill="#77ac30"><circle cx="248.3" cy="996.3" r="6.6"/><circle cx="251.8" cy="995.1" r="6.6"/><circle cx="255.3" cy="1006.8" r="6.6"/><circle cx="258.8" cy="1020.2" r="6.6"/><circle cx="262.3" cy="1035.0" r="6.6"/><circle cx="265.8" cy="1049.3" r="6.6"/><circle cx="269.3" cy="1063.0" r="6.6"/><circle cx="272.8" cy="1072.7" r="6.6"/><circle cx="276.3" cy="1080.8" r="6.6"/><circle cx="279.8" cy="1088.3" r="6.6"/><circle cx="283.3" cy="1095.2" r="6.6"/><circle cx="286.8" cy="1102.1" r="6.6"/><circle cx="290.3" cy="1109.1" r="6.6"/><circle cx="293.8" cy="1114.9" r="6.6"/><circle cx="297.3" cy="1119.8" r="6.6"/><circle cx="300.8" cy="1124.6" r="6.6"/><circle cx="304.3" cy="1127.8" r="6.6"/><circle cx="307.8" cy="1131.0" r="6.6"/><circle cx="311.3" cy="1133.3" r="6.6"/><circle cx="314.8" cy="1134.7" r="6.6"/><circle cx="318.3" cy="1135.9" r="6.6"/><circle cx="321.8" cy="1135.4" r="6.6"/><circle cx="325.3" cy="1135.0" r="6.6"/><circle cx="328.8" cy="1134.4" r="6.6"/><circle cx="332.3" cy="1133.8" r="6.6"/><circle cx="335.8" cy="1132.5" r="6.6"/><circle cx="339.3" cy="1130.8" r="6.6"/><circle cx="342.8" cy="1129.8" r="6.6"/><circle cx="346.3" cy="1129.1" r="6.6"/><circle cx="349.8" cy="1128.5" r="6.6"/><circle cx="353.3" cy="1129.1" r="6.6"/><circle cx="356.8" cy="1130.2" r="6.6"/><circle cx="360.3" cy="1131.5" r="6.6"/><circle cx="363.8" cy="1132.6" r="6.6"/><circle cx="367.3" cy="1133.5" r="6.6"/><circle cx="370.8" cy="1134.4" r="6.6"/><circle cx="374.3" cy="1135.7" r="6.6"/><circle cx="377.8" cy="1135.3" r="6.6"/><circle cx="381.3" cy="1136.3" r="6.6"/><circle cx="384.8" cy="1137.0" r="6.6"/><circle cx="388.3" cy="1137.3" r="6.6"/><circle cx="391.8" cy="1137.9" r="6.6"/><circle cx="395.3" cy="1138.6" r="6.6"/><circle cx="398.8" cy="1139.5" r="6.6"/><circle cx="402.3" cy="1140.1" r="6.6"/><circle cx="405.8" cy="1140.0" r="6.6"/><circle cx="409.3" cy="1140.5" r="6.6"/><circle cx="412.8" cy="1141.1" r="6.6"/><circle cx="416.3" cy="1141.6" r="6.6"/><circle cx="419.8" cy="1141.1" r="6.6"/><circle cx="423.3" cy="1140.7" r="6.6"/><circle cx="426.8" cy="1140.1" r="6.6"/><circle cx="430.3" cy="1140.1" r="6.6"/><circle cx="433.8" cy="1138.8" r="6.6"/><circle cx="437.3" cy="1137.9" r="6.6"/><circle cx="440.8" cy="1137.0" r="6.6"/><circle cx="444.3" cy="1137.5" r="6.6"/><circle cx="447.8" cy="1135.8" r="6.6"/><circle cx="451.3" cy="1135.6" r="6.6"/><circle cx="454.8" cy="1135.3" r="6.6"/><circle cx="458.3" cy="1134.7" r="6.6"/><circle cx="461.8" cy="1132.9" r="6.6"/><circle cx="465.3" cy="1133.1" r="6.6"/><circle cx="468.8" cy="1135.1" r="6.6"/><circle cx="472.3" cy="1135.5" r="6.6"/><circle cx="475.8" cy="1136.7" r="6.6"/><circle cx="479.3" cy="1136.8" r="6.6"/><circle cx="482.8" cy="1138.6" r="6.6"/><circle cx="486.3" cy="1139.7" r="6.6"/><circle cx="489.8" cy="1141.7" r="6.6"/><circle cx="493.3" cy="1141.5" r="6.6"/><circle cx="496.8" cy="1140.6" r="6.6"/><circle cx="500.3" cy="1139.3" r="6.6"/><circle cx="503.8" cy="1138.8" r="6.6"/><circle cx="507.3" cy="1137.7" r="6.6"/><circle cx="510.8" cy="1136.7" r="6.6"/><circle cx="514.3" cy="1136.9" r="6.6"/><circle cx="517.8" cy="1136.0" r="6.6"/><circle cx="521.3" cy="1136.4" r="6.6"/><circle cx="524.8" cy="1135.8" r="6.6"/><circle cx="528.3" cy="1135.5" r="6.6"/><circle cx="531.8" cy="1134.4" r="6.6"/><circle cx="535.3" cy="1133.0" r="6.6"/><circle cx="538.8" cy="1132.0" r="6.6"/><circle cx="542.3" cy="1130.5" r="6.6"/><circle cx="545.8" cy="1129.8" r="6.6"/><circle cx="549.3" cy="1129.0" r="6.6"/><circle cx="552.8" cy="1127.3" r="6.6"/><circle cx="556.3" cy="1128.2" r="6.6"/><circle cx="559.8" cy="1129.9" r="6.6"/><circle cx="563.3" cy="1129.5" r="6.6"/><circle cx="566.8" cy="1130.7" r="6.6"/><circle cx="570.3" cy="1130.3" r="6.6"/><circle cx="573.8" cy="1130.9" r="6.6"/><circle cx="577.3" cy="1130.1" r="6.6"/><circle cx="580.8" cy="1130.1" r="6.6"/><circle cx="584.3" cy="1129.9" r="6.6"/><circle cx="587.8" cy="1130.8" r="6.6"/><circle cx="591.3" cy="1129.9" r="6.6"/><circle cx="594.8" cy="1129.8" r="6.6"/><circle cx="598.3" cy="1128.9" r="6.6"/><circle cx="601.8" cy="1128.5" r="6.6"/><circle cx="605.3" cy="1129.1" r="6.6"/><circle cx="608.8" cy="1128.8" r="6.6"/><circle cx="612.3" cy="1129.3" r="6.6"/><circle cx="615.8" cy="1130.6" r="6.6"/><circle cx="619.3" cy="1132.1" r="6.6"/><circle cx="622.8" cy="1133.0" r="6.6"/><circle cx="626.3" cy="1134.3" r="6.6"/><circle cx="629.8" cy="1135.5" r="6.6"/><circle cx="633.3" cy="1135.3" r="6.6"/><circle cx="636.8" cy="1134.5" r="6.6"/><circle cx="640.3" cy="1134.2" r="6.6"/><circle cx="643.8" cy="1133.9" r="6.6"/><circle cx="647.3" cy="1134.5" r="6.6"/><circle cx="650.8" cy="1134.3" r="6.6"/><circle cx="654.3" cy="1133.4" r="6.6"/><circle cx="657.8" cy="1133.4" r="6.6"/><circle cx="661.3" cy="1133.0" r="6.6"/><circle cx="664.8" cy="1132.5" r="6.6"/><circle cx="668.3" cy="1134.1" r="6.6"/><circle cx="671.8" cy="1135.2" r="6.6"/><circle cx="675.3" cy="1135.8" r="6.6"/><circle cx="678.8" cy="1137.2" r="6.6"/><circle cx="682.3" cy="1138.4" r="6.6"/><circle cx="685.8" cy="1138.6" r="6.6"/><circle cx="689.3" cy="1139.3" r="6.6"/><circle cx="692.8" cy="1140.4" r="6.6"/><circle cx="696.3" cy="1140.5" r="6.6"/><circle cx="699.8" cy="1138.4" r="6.6"/><circle cx="703.3" cy="1138.1" r="6.6"/><circle cx="706.8" cy="1136.7" r="6.6"/><circle cx="710.3" cy="1136.2" r="6.6"/><circle cx="713.8" cy="1134.4" r="6.6"/><circle cx="717.3" cy="1133.2" r="6.6"/><circle cx="720.8" cy="1131.6" r="6.6"/><circle cx="724.3" cy="1132.1" r="6.6"/><circle cx="727.8" cy="1132.8" r="6.6"/><circle cx="731.3" cy="1133.4" r="6.6"/><circle cx="734.8" cy="1134.9" r="6.6"/><circle cx="738.3" cy="1135.6" r="6.6"/><circle cx="741.8" cy="1136.7" r="6.6"/><circle cx="745.3" cy="1137.7" r="6.6"/><circle cx="748.8" cy="1138.6" r="6.6"/><circle cx="752.3" cy="1139.2" r="6.6"/><circle cx="755.8" cy="1139.9" r="6.6"/><circle cx="759.3" cy="1139.6" r="6.6"/><circle cx="762.8" cy="1141.4" r="6.6"/><circle cx="766.3" cy="1142.3" r="6.6"/><circle cx="769.8" cy="1143.7" r="6.6"/><circle cx="773.3" cy="1140.5" r="6.6"/><circle cx="776.8" cy="1137.5" r="6.6"/><circle cx="780.3" cy="1133.8" r="6.6"/><circle cx="783.8" cy="1130.9" r="6.6"/><circle cx="787.3" cy="1127.0" r="6.6"/><circle cx="790.8" cy="1123.9" r="6.6"/><circle cx="794.3" cy="1126.2" r="6.6"/><circle cx="797.8" cy="1129.3" r="6.6"/><circle cx="801.3" cy="1131.6" r="6.6"/><circle cx="804.8" cy="1133.9" r="6.6"/><circle cx="808.3" cy="1136.7" r="6.6"/><circle cx="811.8" cy="1138.3" r="6.6"/><circle cx="815.3" cy="1140.2" r="6.6"/><circle cx="818.8" cy="1141.5" r="6.6"/><circle cx="822.3" cy="1143.3" r="6.6"/><circle cx="825.8" cy="1144.0" r="6.6"/><circle cx="829.3" cy="1145.6" r="6.6"/><circle cx="832.8" cy="1143.9" r="6.6"/><circle cx="836.3" cy="1143.6" r="6.6"/><circle cx="839.8" cy="1143.4" r="6.6"/><circle cx="843.3" cy="1143.2" r="6.6"/><circle cx="846.8" cy="1142.9" r="6.6"/><circle cx="850.3" cy="1141.6" r="6.6"/><circle cx="853.8" cy="1140.8" r="6.6"/><circle cx="857.3" cy="1140.5" r="6.6"/><circle cx="860.8" cy="1140.0" r="6.6"/><circle cx="864.3" cy="1141.5" r="6.6"/><circle cx="867.8" cy="1142.1" r="6.6"/><circle cx="871.3" cy="1141.9" r="6.6"/><circle cx="874.8" cy="1140.9" r="6.6"/><circle cx="878.3" cy="1138.6" r="6.6"/><circle cx="881.8" cy="1136.4" r="6.6"/><circle cx="885.3" cy="1133.6" r="6.6"/><circle cx="888.8" cy="1132.2" r="6.6"/><circle cx="892.3" cy="1129.8" r="6.6"/><circle cx="895.8" cy="1131.2" r="6.6"/><circle cx="899.3" cy="1132.2" r="6.6"/><circle cx="902.8" cy="1133.6" r="6.6"/><circle cx="906.3" cy="1135.8" r="6.6"/><circle cx="909.8" cy="1136.7" r="6.6"/><circle cx="913.3" cy="1135.2" r="6.6"/><circle cx="916.8" cy="1134.9" r="6.6"/><circle cx="920.3" cy="1133.9" r="6.6"/><circle cx="923.8" cy="1133.4" r="6.6"/><circle cx="927.3" cy="1134.5" r="6.6"/><circle cx="930.8" cy="1135.4" r="6.6"/><circle cx="934.3" cy="1135.4" r="6.6"/><circle cx="937.8" cy="1137.5" r="6.6"/><circle cx="941.3" cy="1139.4" r="6.6"/><circle cx="944.8" cy="1142.2" r="6.6"/><circle cx="948.3" cy="1144.0" r="6.6"/><circle cx="951.8" cy="1146.6" r="6.6"/><circle cx="955.3" cy="1147.2" r="6.6"/><circle cx="958.8" cy="1146.8" r="6.6"/><circle cx="962.3" cy="1145.9" r="6.6"/><circle cx="965.8" cy="1146.2" r="6.6"/><circle cx="969.3" cy="1145.8" r="6.6"/><circle cx="972.8" cy="1145.9" r="6.6"/><circle cx="976.3" cy="1146.3" r="6.6"/><circle cx="979.8" cy="1146.4" r="6.6"/><circle cx="983.3" cy="1146.2" r="6.6"/><circle cx="986.8" cy="1146.4" r="6.6"/><circle cx="990.3" cy="1146.3" r="6.6"/><circle cx="993.8" cy="1146.6" r="6.6"/><circle cx="997.3" cy="1146.4" r="6.6"/><circle cx="1000.8" cy="1146.1" r="6.6"/><circle cx="1004.3" cy="1144.3" r="6.6"/><circle cx="1007.8" cy="1144.2" r="6.6"/><circle cx="1011.3" cy="1143.2" r="6.6"/><circle cx="1014.8" cy="1141.2" r="6.6"/><circle cx="1018.3" cy="1139.4" r="6.6"/><circle cx="1021.8" cy="1140.8" r="6.6"/><circle cx="1025.3" cy="1141.6" r="6.6"/><circle cx="1028.8" cy="1142.9" r="6.6"/><circle cx="1032.3" cy="1144.7" r="6.6"/><circle cx="1035.8" cy="1147.4" r="6.6"/><circle cx="1039.3" cy="1150.0" r="6.6"/><circle cx="1042.8" cy="1151.5" r="6.6"/><circle cx="1046.3" cy="1151.5" r="6.6"/><circle cx="1049.8" cy="1151.3" r="6.6"/><circle cx="1053.3" cy="1150.5" r="6.6"/><circle cx="1056.8" cy="1150.6" r="6.6"/><circle cx="1060.3" cy="1149.0" r="6.6"/><circle cx="1063.8" cy="1147.2" r="6.6"/><circle cx="1067.3" cy="1146.1" r="6.6"/><circle cx="1070.8" cy="1145.2" r="6.6"/><circle cx="1074.3" cy="1142.4" r="6.6"/><circle cx="1077.8" cy="1140.4" r="6.6"/><circle cx="1081.3" cy="1137.8" r="6.6"/><circle cx="1084.8" cy="1135.4" r="6.6"/><circle cx="1088.3" cy="1134.0" r="6.6"/><circle cx="1091.8" cy="1135.9" r="6.6"/><circle cx="1095.3" cy="1138.3" r="6.6"/><circle cx="1098.8" cy="1141.0" r="6.6"/><circle cx="1102.3" cy="1144.1" r="6.6"/><circle cx="1105.8" cy="1147.4" r="6.6"/><circle cx="1109.3" cy="1150.2" r="6.6"/><circle cx="1112.8" cy="1148.4" r="6.6"/><circle cx="1116.3" cy="1147.8" r="6.6"/><circle cx="1119.8" cy="1146.9" r="6.6"/><circle cx="1123.3" cy="1146.1" r="6.6"/><circle cx="1126.8" cy="1145.9" r="6.6"/><circle cx="1130.3" cy="1145.5" r="6.6"/><circle cx="1133.8" cy="1145.7" r="6.6"/><circle cx="1137.3" cy="1145.3" r="6.6"/><circle cx="1140.8" cy="1147.0" r="6.6"/><circle cx="1144.3" cy="1148.6" r="6.6"/><circle cx="1147.8" cy="1149.6" r="6.6"/><circle cx="1151.3" cy="1150.9" r="6.6"/><circle cx="1154.8" cy="1151.8" r="6.6"/><circle cx="1158.3" cy="1153.5" r="6.6"/><circle cx="1161.8" cy="1151.3" r="6.6"/><circle cx="1165.3" cy="1151.4" r="6.6"/><circle cx="1168.8" cy="1150.8" r="6.6"/><circle cx="1172.3" cy="1150.1" r="6.6"/><circle cx="1175.8" cy="1149.7" r="6.6"/><circle cx="1179.3" cy="1149.7" r="6.6"/><circle cx="1182.8" cy="1148.5" r="6.6"/><circle cx="1186.3" cy="1148.3" r="6.6"/><circle cx="1189.8" cy="1148.4" r="6.6"/><circle cx="1193.3" cy="1147.9" r="6.6"/><circle cx="1196.8" cy="1147.4" r="6.6"/><circle cx="1200.3" cy="1147.4" r="6.6"/><circle cx="1203.8" cy="1148.0" r="6.6"/><circle cx="1207.3" cy="1148.3" r="6.6"/><circle cx="1210.8" cy="1149.4" r="6.6"/><circle cx="1214.3" cy="1150.4" r="6.6"/><circle cx="1217.8" cy="1151.6" r="6.6"/><circle cx="1221.3" cy="1151.7" r="6.6"/><circle cx="1224.8" cy="1151.0" r="6.6"/><circle cx="1228.3" cy="1149.8" r="6.6"/><circle cx="1231.8" cy="1149.7" r="6.6"/><circle cx="1235.3" cy="1149.6" r="6.6"/><circle cx="1238.8" cy="1149.2" r="6.6"/><circle cx="1242.3" cy="1149.7" r="6.6"/><circle cx="1245.8" cy="1149.9" r="6.6"/><circle cx="1249.3" cy="1150.4" r="6.6"/><circle cx="1252.8" cy="1150.1" r="6.6"/><circle cx="1256.3" cy="1149.2" r="6.6"/><circle cx="1259.8" cy="1149.2" r="6.6"/><circle cx="1263.3" cy="1149.6" r="6.6"/><circle cx="1266.8" cy="1149.6" r="6.6"/><circle cx="1270.3" cy="1151.2" r="6.6"/><circle cx="1273.8" cy="1153.4" r="6.6"/><circle cx="1277.3" cy="1155.2" r="6.6"/><circle cx="1280.8" cy="1156.9" r="6.6"/><circle cx="1284.3" cy="1155.9" r="6.6"/><circle cx="1287.8" cy="1156.6" r="6.6"/><circle cx="1291.3" cy="1156.1" r="6.6"/><circle cx="1294.8" cy="1156.1" r="6.6"/><circle cx="1298.3" cy="1156.2" r="6.6"/><circle cx="1301.8" cy="1156.8" r="6.6"/><circle cx="1305.3" cy="1156.5" r="6.6"/><circle cx="1308.8" cy="1157.1" r="6.6"/><circle cx="1312.3" cy="1156.9" r="6.6"/><circle cx="1315.8" cy="1156.7" r="6.6"/><circle cx="1319.3" cy="1156.0" r="6.6"/><circle cx="1322.8" cy="1156.9" r="6.6"/><circle cx="1326.3" cy="1155.7" r="6.6"/><circle cx="1329.8" cy="1155.0" r="6.6"/><circle cx="1333.3" cy="1154.9" r="6.6"/><circle cx="1336.8" cy="1154.8" r="6.6"/><circle cx="1340.3" cy="1153.2" r="6.6"/><circle cx="1343.8" cy="1153.4" r="6.6"/><circle cx="1347.3" cy="1152.8" r="6.6"/><circle cx="1350.8" cy="1152.4" r="6.6"/><circle cx="1354.3" cy="1152.9" r="6.6"/><circle cx="1357.8" cy="1152.5" r="6.6"/><circle cx="1361.3" cy="1152.8" r="6.6"/><circle cx="1364.8" cy="1152.5" r="6.6"/><circle cx="1368.3" cy="1152.7" r="6.6"/><circle cx="1371.8" cy="1153.3" r="6.6"/><circle cx="1375.3" cy="1153.6" r="6.6"/><circle cx="1378.8" cy="1153.9" r="6.6"/><circle cx="1382.3" cy="1153.8" r="6.6"/><circle cx="1385.8" cy="1153.6" r="6.6"/><circle cx="1389.3" cy="1153.6" r="6.6"/><circle cx="1392.8" cy="1155.5" r="6.6"/><circle cx="1396.3" cy="1156.0" r="6.6"/><circle cx="1399.8" cy="1156.4" r="6.6"/><circle cx="1403.3" cy="1157.3" r="6.6"/><circle cx="1406.8" cy="1157.6" r="6.6"/><circle cx="1410.3" cy="1157.8" r="6.6"/><circle cx="1413.8" cy="1158.6" r="6.6"/><circle cx="1417.3" cy="1158.7" r="6.6"/><circle cx="1420.8" cy="1159.7" r="6.6"/><circle cx="1424.3" cy="1159.8" r="6.6"/><circle cx="1427.8" cy="1160.4" r="6.6"/><circle cx="1431.3" cy="1160.1" r="6.6"/><circle cx="1434.8" cy="1160.3" r="6.6"/><circle cx="1438.3" cy="1160.7" r="6.6"/><circle cx="1441.8" cy="1161.4" r="6.6"/><circle cx="1445.3" cy="1161.6" r="6.6"/><circle cx="1448.8" cy="1162.9" r="6.6"/><circle cx="1452.3" cy="1164.7" r="6.6"/><circle cx="1455.8" cy="1166.5" r="6.6"/><circle cx="1459.3" cy="1168.6" r="6.6"/><circle cx="1462.8" cy="1169.9" r="6.6"/><circle cx="1466.3" cy="1170.9" r="6.6"/><circle cx="1469.8" cy="1171.8" r="6.6"/><circle cx="1473.3" cy="1171.1" r="6.6"/><circle cx="1476.8" cy="1171.4" r="6.6"/><circle cx="1480.3" cy="1171.0" r="6.6"/><circle cx="1483.8" cy="1170.8" r="6.6"/><circle cx="1487.3" cy="1169.4" r="6.6"/><circle cx="1490.8" cy="1167.8" r="6.6"/><circle cx="1494.3" cy="1165.8" r="6.6"/><circle cx="1497.8" cy="1165.0" r="6.6"/><circle cx="1501.3" cy="1163.1" r="6.6"/><circle cx="1504.8" cy="1161.3" r="6.6"/><circle cx="1508.3" cy="1160.5" r="6.6"/><circle cx="1511.8" cy="1159.5" r="6.6"/><circle cx="1515.3" cy="1159.2" r="6.6"/><circle cx="1518.8" cy="1158.0" r="6.6"/><circle cx="1522.3" cy="1157.9" r="6.6"/><circle cx="1525.8" cy="1157.5" r="6.6"/><circle cx="1529.3" cy="1157.9" r="6.6"/><circle cx="1532.8" cy="1156.9" r="6.6"/><circle cx="1536.3" cy="1156.1" r="6.6"/><circle cx="1539.8" cy="1155.0" r="6.6"/><circle cx="1543.3" cy="1154.1" r="6.6"/><circle cx="1546.8" cy="1152.9" r="6.6"/><circle cx="1550.3" cy="1152.0" r="6.6"/><circle cx="1553.8" cy="1151.5" r="6.6"/><circle cx="1557.3" cy="1149.5" r="6.6"/><circle cx="1560.8" cy="1147.1" r="6.6"/><circle cx="1564.3" cy="1145.3" r="6.6"/><circle cx="1567.8" cy="1143.4" r="6.6"/><circle cx="1571.3" cy="1141.3" r="6.6"/><circle cx="1574.8" cy="1137.7" r="6.6"/><circle cx="1578.3" cy="1135.1" r="6.6"/><circle cx="1581.8" cy="1135.0" r="6.6"/><circle cx="1585.3" cy="1135.4" r="6.6"/><circle cx="1588.8" cy="1135.2" r="6.6"/><circle cx="1592.3" cy="1136.2" r="6.6"/><circle cx="1595.8" cy="1136.8" r="6.6"/><circle cx="1599.3" cy="1138.9" r="6.6"/><circle cx="1602.8" cy="1140.8" r="6.6"/><circle cx="1606.3" cy="1141.6" r="6.6"/><circle cx="1609.8" cy="1143.7" r="6.6"/><circle cx="1613.3" cy="1143.1" r="6.6"/><circle cx="1616.8" cy="1143.1" r="6.6"/><circle cx="1620.3" cy="1142.4" r="6.6"/><circle cx="1623.8" cy="1143.4" r="6.6"/><circle cx="1627.3" cy="1143.8" r="6.6"/><circle cx="1630.8" cy="1143.6" r="6.6"/><circle cx="1634.3" cy="1143.9" r="6.6"/><circle cx="1637.8" cy="1144.2" r="6.6"/><circle cx="1641.3" cy="1143.8" r="6.6"/><circle cx="1644.8" cy="1145.4" r="6.6"/><circle cx="1648.3" cy="1148.5" r="6.6"/></g>
<g fill="#4dbeee"><circle cx="248.3" cy="1143.0" r="6.6"/><circle cx="251.8" cy="1143.3" r="6.6"/><circle cx="255.3" cy="1144.1" r="6.6"/><circle cx="258.8" cy="1143.2" r="6.6"/><circle cx="262.3" cy="1145.8" r="6.6"/><circle cx="265.8" cy="1145.5" r="6.6"/><circle cx="269.3" cy="1148.2" r="6.6"/><circle cx="272.8" cy="1149.2" r="6.6"/><circle cx="276.3" cy="1152.6" r="6.6"/><circle cx="279.8" cy="1153.6" r="6.6"/><circle cx="283.3" cy="1155.4" r="6.6"/><circle cx="286.8" cy="1156.9" r="6.6"/><circle cx="290.3" cy="1158.2" r="6.6"/><circle cx="293.8" cy="1159.6" r="6.6"/><circle cx="297.3" cy="1160.1" r="6.6"/><circle cx="300.8" cy="1162.4" r="6.6"/><circle cx="304.3" cy="1163.2" r="6.6"/><circle cx="307.8" cy="1163.9" r="6.6"/><circle cx="311.3" cy="1165.9" r="6.6"/><circle cx="314.8" cy="1167.4" r="6.6"/><circle cx="318.3" cy="1167.9" r="6.6"/><circle cx="321.8" cy="1169.0" r="6.6"/><circle cx="325.3" cy="1170.4" r="6.6"/><circle cx="328.8" cy="1170.7" r="6.6"/><circle cx="332.3" cy="1171.8" r="6.6"/><circle cx="335.8" cy="1172.6" r="6.6"/><circle cx="339.3" cy="1173.9" r="6.6"/><circle cx="342.8" cy="1173.7" r="6.6"/><circle cx="346.3" cy="1175.0" r="6.6"/><circle cx="349.8" cy="1174.8" r="6.6"/><circle cx="353.3" cy="1174.8" r="6.6"/><circle cx="356.8" cy="1175.2" r="6.6"/><circle cx="360.3" cy="1174.7" r="6.6"/><circle cx="363.8" cy="1174.5" r="6.6"/><circle cx="367.3" cy="1175.5" r="6.6"/><circle cx="370.8" cy="1174.6" r="6.6"/><circle cx="374.3" cy="1174.5" r="6.6"/><circle cx="377.8" cy="1174.8" r="6.6"/><circle cx="381.3" cy="1175.8" r="6.6"/><circle cx="384.8" cy="1175.8" r="6.6"/><circle cx="388.3" cy="1176.8" r="6.6"/><circle cx="391.8" cy="1176.8" r="6.6"/><circle cx="395.3" cy="1176.9" r="6.6"/><circle cx="398.8" cy="1176.4" r="6.6"/><circle cx="402.3" cy="1175.6" r="6.6"/><circle cx="405.8" cy="1175.5" r="6.6"/><circle cx="409.3" cy="1176.2" r="6.6"/><circle cx="412.8" cy="1176.1" r="6.6"/><circle cx="416.3" cy="1175.2" r="6.6"/><circle cx="419.8" cy="1176.0" r="6.6"/><circle cx="423.3" cy="1174.2" r="6.6"/><circle cx="426.8" cy="1175.5" r="6.6"/><circle cx="430.3" cy="1174.5" r="6.6"/><circle cx="433.8" cy="1174.6" r="6.6"/><circle cx="437.3" cy="1174.4" r="6.6"/><circle cx="440.8" cy="1175.2" r="6.6"/><circle cx="444.3" cy="1175.5" r="6.6"/><circle cx="447.8" cy="1176.3" r="6.6"/><circle cx="451.3" cy="1177.0" r="6.6"/><circle cx="454.8" cy="1176.5" r="6.6"/><circle cx="458.3" cy="1176.3" r="6.6"/><circle cx="461.8" cy="1176.4" r="6.6"/><circle cx="465.3" cy="1174.9" r="6.6"/><circle cx="468.8" cy="1175.1" r="6.6"/><circle cx="472.3" cy="1174.6" r="6.6"/><circle cx="475.8" cy="1175.2" r="6.6"/><circle cx="479.3" cy="1174.3" r="6.6"/><circle cx="482.8" cy="1174.5" r="6.6"/><circle cx="486.3" cy="1175.0" r="6.6"/><circle cx="489.8" cy="1176.0" r="6.6"/><circle cx="493.3" cy="1175.1" r="6.6"/><circle cx="496.8" cy="1174.9" r="6.6"/><circle cx="500.3" cy="1175.1" r="6.6"/><circle cx="503.8" cy="1174.7" r="6.6"/><circle cx="507.3" cy="1174.9" r="6.6"/><circle cx="510.8" cy="1174.5" r="6.6"/><circle cx="514.3" cy="1174.6" r="6.6"/><circle cx="517.8" cy="1175.4" r="6.6"/><circle cx="521.3" cy="1175.9" r="6.6"/><circle cx="524.8" cy="1176.3" r="6.6"/><circle cx="528.3" cy="1176.5" r="6.6"/><circle cx="531.8" cy="1177.5" r="6.6"/><circle cx="535.3" cy="1177.4" r="6.6"/><circle cx="538.8" cy="1178.3" r="6.6"/><circle cx="542.3" cy="1178.8" r="6.6"/><circle cx="545.8" cy="1177.8" r="6.6"/><circle cx="549.3" cy="1178.6" r="6.6"/><circle cx="552.8" cy="1178.3" r="6.6"/><circle cx="556.3" cy="1178.4" r="6.6"/><circle cx="559.8" cy="1178.8" r="6.6"/><circle cx="563.3" cy="1178.4" r="6.6"/><circle cx="566.8" cy="1178.0" r="6.6"/><circle cx="570.3" cy="1178.0" r="6.6"/><circle cx="573.8" cy="1178.3" r="6.6"/><circle cx="577.3" cy="1178.2" r="6.6"/><circle cx="580.8" cy="1179.2" r="6.6"/><circle cx="584.3" cy="1178.8" r="6.6"/><circle cx="587.8" cy="1179.2" r="6.6"/><circle cx="591.3" cy="1179.7" r="6.6"/><circle cx="594.8" cy="1178.6" r="6.6"/><circle cx="598.3" cy="1179.4" r="6.6"/><circle cx="601.8" cy="1179.6" r="6.6"/><circle cx="605.3" cy="1179.2" r="6.6"/><circle cx="608.8" cy="1179.4" r="6.6"/><circle cx="612.3" cy="1178.8" r="6.6"/><circle cx="615.8" cy="1178.8" r="6.6"/><circle cx="619.3" cy="1177.9" r="6.6"/><circle cx="622.8" cy="1177.6" r="6.6"/><circle cx="626.3" cy="1176.5" r="6.6"/><circle cx="629.8" cy="1177.2" r="6.6"/><circle cx="633.3" cy="1176.0" r="6.6"/><circle cx="636.8" cy="1176.8" r="6.6"/><circle cx="640.3" cy="1177.2" r="6.6"/><circle cx="643.8" cy="1178.7" r="6.6"/><circle cx="647.3" cy="1178.4" r="6.6"/><circle cx="650.8" cy="1178.8" r="6.6"/><circle cx="654.3" cy="1178.1" r="6.6"/><circle cx="657.8" cy="1178.0" r="6.6"/><circle cx="661.3" cy="1178.3" r="6.6"/><circle cx="664.8" cy="1178.1" r="6.6"/><circle cx="668.3" cy="1178.6" r="6.6"/><circle cx="671.8" cy="1179.2" r="6.6"/><circle cx="675.3" cy="1179.8" r="6.6"/><circle cx="678.8" cy="1180.2" r="6.6"/><circle cx="682.3" cy="1181.0" r="6.6"/><circle cx="685.8" cy="1181.5" r="6.6"/><circle cx="689.3" cy="1181.0" r="6.6"/><circle cx="692.8" cy="1180.9" r="6.6"/><circle cx="696.3" cy="1180.8" r="6.6"/><circle cx="699.8" cy="1180.8" r="6.6"/><circle cx="703.3" cy="1181.0" r="6.6"/><circle cx="706.8" cy="1181.0" r="6.6"/><circle cx="710.3" cy="1180.0" r="6.6"/><circle cx="713.8" cy="1180.0" r="6.6"/><circle cx="717.3" cy="1180.6" r="6.6"/><circle cx="720.8" cy="1181.2" r="6.6"/><circle cx="724.3" cy="1181.3" r="6.6"/><circle cx="727.8" cy="1181.1" r="6.6"/><circle cx="731.3" cy="1181.9" r="6.6"/><circle cx="734.8" cy="1182.1" r="6.6"/><circle cx="738.3" cy="1180.6" r="6.6"/><circle cx="741.8" cy="1180.5" r="6.6"/><circle cx="745.3" cy="1180.7" r="6.6"/><circle cx="748.8" cy="1180.8" r="6.6"/><circle cx="752.3" cy="1179.9" r="6.6"/><circle cx="755.8" cy="1180.4" r="6.6"/><circle cx="759.3" cy="1180.7" r="6.6"/><circle cx="762.8" cy="1179.9" r="6.6"/><circle cx="766.3" cy="1179.9" r="6.6"/><circle cx="769.8" cy="1180.8" r="6.6"/><circle cx="773.3" cy="1181.3" r="6.6"/><circle cx="776.8" cy="1180.3" r="6.6"/><circle cx="780.3" cy="1181.9" r="6.6"/><circle cx="783.8" cy="1181.1" r="6.6"/><circle cx="787.3" cy="1180.1" r="6.6"/><circle cx="790.8" cy="1180.3" r="6.6"/><circle cx="794.3" cy="1180.2" r="6.6"/><circle cx="797.8" cy="1179.3" r="6.6"/><circle cx="801.3" cy="1179.1" r="6.6"/><circle cx="804.8" cy="1180.2" r="6.6"/><circle cx="808.3" cy="1178.7" r="6.6"/><circle cx="811.8" cy="1178.5" r="6.6"/><circle cx="815.3" cy="1178.7" r="6.6"/><circle cx="818.8" cy="1177.6" r="6.6"/><circle cx="822.3" cy="1176.8" r="6.6"/><circle cx="825.8" cy="1176.8" r="6.6"/><circle cx="829.3" cy="1177.2" r="6.6"/><circle cx="832.8" cy="1177.1" r="6.6"/><circle cx="836.3" cy="1179.1" r="6.6"/><circle cx="839.8" cy="1178.8" r="6.6"/><circle cx="843.3" cy="1180.2" r="6.6"/><circle cx="846.8" cy="1179.4" r="6.6"/><circle cx="850.3" cy="1180.7" r="6.6"/><circle cx="853.8" cy="1180.0" r="6.6"/><circle cx="857.3" cy="1180.4" r="6.6"/><circle cx="860.8" cy="1180.1" r="6.6"/><circle cx="864.3" cy="1179.9" r="6.6"/><circle cx="867.8" cy="1180.4" r="6.6"/><circle cx="871.3" cy="1179.9" r="6.6"/><circle cx="874.8" cy="1180.7" r="6.6"/><circle cx="878.3" cy="1180.6" r="6.6"/><circle cx="881.8" cy="1181.4" r="6.6"/><circle cx="885.3" cy="1179.9" r="6.6"/><circle cx="888.8" cy="1179.9" r="6.6"/><circle cx="892.3" cy="1179.9" r="6.6"/><circle cx="895.8" cy="1179.3" r="6.6"/><circle cx="899.3" cy="1178.3" r="6.6"/><circle cx="902.8" cy="1178.9" r="6.6"/><circle cx="906.3" cy="1177.5" r="6.6"/><circle cx="909.8" cy="1177.6" r="6.6"/><circle cx="913.3" cy="1177.2" r="6.6"/><circle cx="916.8" cy="1176.4" r="6.6"/><circle cx="920.3" cy="1175.2" r="6.6"/><circle cx="923.8" cy="1174.9" r="6.6"/><circle cx="927.3" cy="1174.2" r="6.6"/><circle cx="930.8" cy="1173.5" r="6.6"/><circle cx="934.3" cy="1172.3" r="6.6"/><circle cx="937.8" cy="1171.7" r="6.6"/><circle cx="941.3" cy="1169.8" r="6.6"/><circle cx="944.8" cy="1169.3" r="6.6"/><circle cx="948.3" cy="1166.8" r="6.6"/><circle cx="951.8" cy="1165.0" r="6.6"/><circle cx="955.3" cy="1163.3" r="6.6"/><circle cx="958.8" cy="1163.1" r="6.6"/><circle cx="962.3" cy="1159.1" r="6.6"/><circle cx="965.8" cy="1156.8" r="6.6"/><circle cx="969.3" cy="1157.0" r="6.6"/><circle cx="972.8" cy="1157.6" r="6.6"/><circle cx="976.3" cy="1157.1" r="6.6"/><circle cx="979.8" cy="1157.5" r="6.6"/><circle cx="983.3" cy="1157.6" r="6.6"/><circle cx="986.8" cy="1158.4" r="6.6"/><circle cx="990.3" cy="1158.9" r="6.6"/><circle cx="993.8" cy="1158.2" r="6.6"/><circle cx="997.3" cy="1158.6" r="6.6"/><circle cx="1000.8" cy="1161.1" r="6.6"/><circle cx="1004.3" cy="1165.2" r="6.6"/><circle cx="1007.8" cy="1168.5" r="6.6"/><circle cx="1011.3" cy="1170.1" r="6.6"/><circle cx="1014.8" cy="1170.2" r="6.6"/><circle cx="1018.3" cy="1170.1" r="6.6"/><circle cx="1021.8" cy="1170.7" r="6.6"/><circle cx="1025.3" cy="1168.5" r="6.6"/><circle cx="1028.8" cy="1169.5" r="6.6"/><circle cx="1032.3" cy="1169.3" r="6.6"/><circle cx="1035.8" cy="1165.1" r="6.6"/><circle cx="1039.3" cy="1161.2" r="6.6"/><circle cx="1042.8" cy="1156.8" r="6.6"/><circle cx="1046.3" cy="1154.4" r="6.6"/><circle cx="1049.8" cy="1154.3" r="6.6"/><circle cx="1053.3" cy="1153.8" r="6.6"/><circle cx="1056.8" cy="1153.9" r="6.6"/><circle cx="1060.3" cy="1154.5" r="6.6"/><circle cx="1063.8" cy="1152.6" r="6.6"/><circle cx="1067.3" cy="1151.3" r="6.6"/><circle cx="1070.8" cy="1149.7" r="6.6"/><circle cx="1074.3" cy="1149.1" r="6.6"/><circle cx="1077.8" cy="1148.5" r="6.6"/><circle cx="1081.3" cy="1147.6" r="6.6"/><circle cx="1084.8" cy="1147.6" r="6.6"/><circle cx="1088.3" cy="1147.9" r="6.6"/><circle cx="1091.8" cy="1149.4" r="6.6"/><circle cx="1095.3" cy="1148.3" r="6.6"/><circle cx="1098.8" cy="1149.6" r="6.6"/><circle cx="1102.3" cy="1148.9" r="6.6"/><circle cx="1105.8" cy="1147.4" r="6.6"/><circle cx="1109.3" cy="1146.9" r="6.6"/><circle cx="1112.8" cy="1145.4" r="6.6"/><circle cx="1116.3" cy="1144.2" r="6.6"/><circle cx="1119.8" cy="1143.0" r="6.6"/><circle cx="1123.3" cy="1140.4" r="6.6"/><circle cx="1126.8" cy="1136.9" r="6.6"/><circle cx="1130.3" cy="1131.4" r="6.6"/><circle cx="1133.8" cy="1127.0" r="6.6"/><circle cx="1137.3" cy="1122.0" r="6.6"/><circle cx="1140.8" cy="1122.1" r="6.6"/><circle cx="1144.3" cy="1122.2" r="6.6"/><circle cx="1147.8" cy="1121.8" r="6.6"/><circle cx="1151.3" cy="1121.7" r="6.6"/><circle cx="1154.8" cy="1119.4" r="6.6"/><circle cx="1158.3" cy="1117.3" r="6.6"/><circle cx="1161.8" cy="1114.7" r="6.6"/><circle cx="1165.3" cy="1112.0" r="6.6"/><circle cx="1168.8" cy="1110.6" r="6.6"/><circle cx="1172.3" cy="1112.7" r="6.6"/><circle cx="1175.8" cy="1116.9" r="6.6"/><circle cx="1179.3" cy="1118.0" r="6.6"/><circle cx="1182.8" cy="1121.9" r="6.6"/><circle cx="1186.3" cy="1124.4" r="6.6"/><circle cx="1189.8" cy="1127.5" r="6.6"/><circle cx="1193.3" cy="1130.7" r="6.6"/><circle cx="1196.8" cy="1131.1" r="6.6"/><circle cx="1200.3" cy="1127.0" r="6.6"/><circle cx="1203.8" cy="1123.3" r="6.6"/><circle cx="1207.3" cy="1120.2" r="6.6"/><circle cx="1210.8" cy="1117.6" r="6.6"/><circle cx="1214.3" cy="1114.2" r="6.6"/><circle cx="1217.8" cy="1111.0" r="6.6"/><circle cx="1221.3" cy="1107.8" r="6.6"/><circle cx="1224.8" cy="1101.2" r="6.6"/><circle cx="1228.3" cy="1095.0" r="6.6"/><circle cx="1231.8" cy="1087.4" r="6.6"/><circle cx="1235.3" cy="1070.3" r="6.6"/><circle cx="1239.0" cy="1057.5" r="6.6"/><circle cx="1243.2" cy="1043.9" r="6.6"/><circle cx="1247.4" cy="1032.5" r="6.6"/><circle cx="1253.5" cy="1024.2" r="6.6"/><circle cx="1259.8" cy="1028.5" r="6.6"/><circle cx="1268.2" cy="1020.0" r="6.6"/><circle cx="1274.3" cy="1014.8" r="6.6"/><circle cx="1276.4" cy="1004.5" r="6.6"/><circle cx="1280.6" cy="971.2" r="6.6"/><circle cx="1284.3" cy="915.5" r="6.6"/><circle cx="1287.8" cy="829.2" r="6.6"/><circle cx="1291.1" cy="710.1" r="6.6"/><circle cx="1294.8" cy="573.4" r="6.6"/><circle cx="1298.1" cy="459.6" r="6.6"/><circle cx="1301.6" cy="344.9" r="6.6"/><circle cx="1304.8" cy="287.0" r="6.6"/><circle cx="1308.8" cy="289.0" r="6.6"/><circle cx="1312.0" cy="332.4" r="6.6"/><circle cx="1315.5" cy="391.4" r="6.6"/><circle cx="1319.3" cy="467.0" r="6.6"/><circle cx="1322.5" cy="512.2" r="6.6"/><circle cx="1326.1" cy="525.4" r="6.6"/><circle cx="1329.6" cy="474.2" r="6.6"/><circle cx="1332.8" cy="434.8" r="6.6"/><circle cx="1337.0" cy="439.9" r="6.6"/><circle cx="1340.1" cy="446.2" r="6.6"/><circle cx="1343.6" cy="457.6" r="6.6"/><circle cx="1347.3" cy="550.8" r="6.6"/><circle cx="1350.5" cy="619.0" r="6.6"/><circle cx="1354.0" cy="648.1" r="6.6"/><circle cx="1357.8" cy="676.7" r="6.6"/><circle cx="1361.3" cy="706.5" r="6.6"/><circle cx="1366.0" cy="697.5" r="6.6"/><circle cx="1372.3" cy="690.4" r="6.6"/><circle cx="1380.5" cy="686.1" r="6.6"/><circle cx="1384.8" cy="676.7" r="6.6"/><circle cx="1389.0" cy="666.5" r="6.6"/><circle cx="1392.1" cy="658.0" r="6.6"/><circle cx="1396.3" cy="613.9" r="6.6"/><circle cx="1399.8" cy="578.6" r="6.6"/><circle cx="1403.5" cy="541.9" r="6.6"/><circle cx="1406.6" cy="508.4" r="6.6"/><circle cx="1410.1" cy="476.4" r="6.6"/><circle cx="1414.0" cy="521.8" r="6.6"/><circle cx="1417.0" cy="563.4" r="6.6"/><circle cx="1420.1" cy="602.9" r="6.6"/><circle cx="1424.3" cy="597.8" r="6.6"/><circle cx="1427.5" cy="591.5" r="6.6"/><circle cx="1431.0" cy="506.1" r="6.6"/><circle cx="1434.6" cy="421.6" r="6.6"/><circle cx="1438.6" cy="339.8" r="6.6"/><circle cx="1445.0" cy="337.5" r="6.6"/><circle cx="1448.6" cy="404.2" r="6.6"/><circle cx="1452.3" cy="455.6" r="6.6"/><circle cx="1455.5" cy="500.1" r="6.6"/><circle cx="1459.3" cy="489.8" r="6.6"/><circle cx="1462.8" cy="447.1" r="6.6"/><circle cx="1466.3" cy="370.2" r="6.6"/><circle cx="1469.5" cy="299.5" r="6.6"/><circle cx="1473.3" cy="235.3" r="6.6"/><circle cx="1476.6" cy="173.0" r="6.6"/><circle cx="1480.3" cy="179.0" r="6.6"/><circle cx="1483.5" cy="191.1" r="6.6"/><circle cx="1487.0" cy="215.0" r="6.6"/><circle cx="1490.6" cy="236.5" r="6.6"/><circle cx="1493.8" cy="262.9" r="6.6"/><circle cx="1498.0" cy="264.9" r="6.6"/><circle cx="1503.2" cy="252.3" r="6.6"/><circle cx="1508.5" cy="248.3" r="6.6"/><circle cx="1512.5" cy="255.5" r="6.6"/><circle cx="1516.7" cy="261.7" r="6.6"/><circle cx="1518.8" cy="270.5" r="6.6"/><circle cx="1522.0" cy="287.7" r="6.6"/><circle cx="1525.1" cy="301.3" r="6.6"/><circle cx="1528.1" cy="304.4" r="6.6"/><circle cx="1532.3" cy="306.5" r="6.6"/><circle cx="1536.5" cy="301.8" r="6.6"/><circle cx="1539.6" cy="285.2" r="6.6"/><circle cx="1542.8" cy="277.4" r="6.6"/><circle cx="1546.8" cy="273.1" r="6.6"/><circle cx="1551.0" cy="276.3" r="6.6"/><circle cx="1553.5" cy="287.0" r="6.6"/><circle cx="1557.3" cy="308.5" r="6.6"/><circle cx="1560.5" cy="319.9" r="6.6"/><circle cx="1563.4" cy="331.5" r="6.6"/><circle cx="1567.6" cy="341.8" r="6.6"/><circle cx="1570.8" cy="346.0" r="6.6"/><circle cx="1573.9" cy="338.7" r="6.6"/><circle cx="1578.1" cy="328.4" r="6.6"/><circle cx="1581.1" cy="317.9" r="6.6"/><circle cx="1585.3" cy="297.7" r="6.6"/><circle cx="1588.5" cy="282.5" r="6.6"/><circle cx="1591.6" cy="271.1" r="6.6"/><circle cx="1595.8" cy="268.0" r="6.6"/><circle cx="1598.8" cy="258.6" r="6.6"/><circle cx="1603.0" cy="264.9" r="6.6"/><circle cx="1605.1" cy="256.6" r="6.6"/><circle cx="1608.2" cy="250.3" r="6.6"/><circle cx="1612.4" cy="248.3" r="6.6"/><circle cx="1616.5" cy="255.5" r="6.6"/><circle cx="1620.1" cy="244.5" r="6.6"/><circle cx="1623.5" cy="213.4" r="6.6"/><circle cx="1627.1" cy="179.0" r="6.6"/><circle cx="1630.6" cy="138.1" r="6.6"/><circle cx="1634.1" cy="88.0" r="6.6"/><circle cx="1638.3" cy="82.9" r="6.6"/><circle cx="1645.7" cy="84.9" r="6.6"/></g>
<g fill="#7e2f8e"><circle cx="248.3" cy="1149.3" r="6.6"/><circle cx="251.8" cy="1150.7" r="6.6"/><circle cx="255.3" cy="1152.5" r="6.6"/><circle cx="258.8" cy="1153.8" r="6.6"/><circle cx="262.3" cy="1154.7" r="6.6"/><circle cx="265.8" cy="1155.4" r="6.6"/><circle cx="269.3" cy="1153.6" r="6.6"/><circle cx="272.8" cy="1155.6" r="6.6"/><circle cx="276.3" cy="1156.9" r="6.6"/><circle cx="279.8" cy="1155.0" r="6.6"/><circle cx="283.3" cy="1155.8" r="6.6"/><circle cx="286.8" cy="1156.4" r="6.6"/><circle cx="290.3" cy="1157.0" r="6.6"/><circle cx="293.8" cy="1157.3" r="6.6"/><circle cx="297.3" cy="1158.4" r="6.6"/><circle cx="300.8" cy="1159.3" r="6.6"/><circle cx="304.3" cy="1159.6" r="6.6"/><circle cx="307.8" cy="1159.6" r="6.6"/><circle cx="311.3" cy="1160.0" r="6.6"/><circle cx="314.8" cy="1159.4" r="6.6"/><circle cx="318.3" cy="1159.1" r="6.6"/><circle cx="321.8" cy="1158.3" r="6.6"/><circle cx="325.3" cy="1158.6" r="6.6"/><circle cx="328.8" cy="1160.2" r="6.6"/><circle cx="332.3" cy="1159.9" r="6.6"/><circle cx="335.8" cy="1159.8" r="6.6"/><circle cx="339.3" cy="1160.2" r="6.6"/><circle cx="342.8" cy="1162.0" r="6.6"/><circle cx="346.3" cy="1161.4" r="6.6"/><circle cx="349.8" cy="1161.0" r="6.6"/><circle cx="353.3" cy="1160.8" r="6.6"/><circle cx="356.8" cy="1160.2" r="6.6"/><circle cx="360.3" cy="1159.1" r="6.6"/><circle cx="363.8" cy="1158.7" r="6.6"/><circle cx="367.3" cy="1159.1" r="6.6"/><circle cx="370.8" cy="1157.9" r="6.6"/><circle cx="374.3" cy="1158.9" r="6.6"/><circle cx="377.8" cy="1158.2" r="6.6"/><circle cx="381.3" cy="1159.2" r="6.6"/><circle cx="384.8" cy="1160.1" r="6.6"/><circle cx="388.3" cy="1160.0" r="6.6"/><circle cx="391.8" cy="1159.5" r="6.6"/><circle cx="395.3" cy="1160.5" r="6.6"/><circle cx="398.8" cy="1161.3" r="6.6"/><circle cx="402.3" cy="1158.6" r="6.6"/><circle cx="405.8" cy="1159.2" r="6.6"/><circle cx="409.3" cy="1158.8" r="6.6"/><circle cx="412.8" cy="1157.8" r="6.6"/><circle cx="416.3" cy="1159.2" r="6.6"/><circle cx="419.8" cy="1157.4" r="6.6"/><circle cx="423.3" cy="1159.6" r="6.6"/><circle cx="426.8" cy="1158.3" r="6.6"/><circle cx="430.3" cy="1159.4" r="6.6"/><circle cx="433.8" cy="1158.9" r="6.6"/><circle cx="437.3" cy="1159.3" r="6.6"/><circle cx="440.8" cy="1158.2" r="6.6"/><circle cx="444.3" cy="1160.1" r="6.6"/><circle cx="447.8" cy="1159.2" r="6.6"/><circle cx="451.3" cy="1158.1" r="6.6"/><circle cx="454.8" cy="1157.2" r="6.6"/><circle cx="458.3" cy="1158.5" r="6.6"/><circle cx="461.8" cy="1157.8" r="6.6"/><circle cx="465.3" cy="1159.0" r="6.6"/><circle cx="468.8" cy="1159.1" r="6.6"/><circle cx="472.3" cy="1158.1" r="6.6"/><circle cx="475.8" cy="1160.3" r="6.6"/><circle cx="479.3" cy="1159.8" r="6.6"/><circle cx="482.8" cy="1159.4" r="6.6"/><circle cx="486.3" cy="1159.9" r="6.6"/><circle cx="489.8" cy="1160.6" r="6.6"/><circle cx="493.3" cy="1160.6" r="6.6"/><circle cx="496.8" cy="1160.4" r="6.6"/><circle cx="500.3" cy="1160.7" r="6.6"/><circle cx="503.8" cy="1157.6" r="6.6"/><circle cx="507.3" cy="1157.4" r="6.6"/><circle cx="510.8" cy="1158.4" r="6.6"/><circle cx="514.3" cy="1157.5" r="6.6"/><circle cx="517.8" cy="1158.2" r="6.6"/><circle cx="521.3" cy="1159.6" r="6.6"/><circle cx="524.8" cy="1159.3" r="6.6"/><circle cx="528.3" cy="1158.4" r="6.6"/><circle cx="531.8" cy="1157.2" r="6.6"/><circle cx="535.3" cy="1158.2" r="6.6"/><circle cx="538.8" cy="1158.6" r="6.6"/><circle cx="542.3" cy="1158.0" r="6.6"/><circle cx="545.8" cy="1157.8" r="6.6"/><circle cx="549.3" cy="1157.6" r="6.6"/><circle cx="552.8" cy="1157.1" r="6.6"/><circle cx="556.3" cy="1157.1" r="6.6"/><circle cx="559.8" cy="1157.9" r="6.6"/><circle cx="563.3" cy="1158.0" r="6.6"/><circle cx="566.8" cy="1158.1" r="6.6"/><circle cx="570.3" cy="1157.6" r="6.6"/><circle cx="573.8" cy="1157.7" r="6.6"/><circle cx="577.3" cy="1159.2" r="6.6"/><circle cx="580.8" cy="1157.8" r="6.6"/><circle cx="584.3" cy="1160.5" r="6.6"/><circle cx="587.8" cy="1159.1" r="6.6"/><circle cx="591.3" cy="1159.5" r="6.6"/><circle cx="594.8" cy="1159.0" r="6.6"/><circle cx="598.3" cy="1158.9" r="6.6"/><circle cx="601.8" cy="1158.5" r="6.6"/><circle cx="605.3" cy="1158.2" r="6.6"/><circle cx="608.8" cy="1159.1" r="6.6"/><circle cx="612.3" cy="1158.0" r="6.6"/><circle cx="615.8" cy="1157.5" r="6.6"/><circle cx="619.3" cy="1157.7" r="6.6"/><circle cx="622.8" cy="1158.4" r="6.6"/><circle cx="626.3" cy="1157.7" r="6.6"/><circle cx="629.8" cy="1157.7" r="6.6"/><circle cx="633.3" cy="1159.7" r="6.6"/><circle cx="636.8" cy="1157.9" r="6.6"/><circle cx="640.3" cy="1157.7" r="6.6"/><circle cx="643.8" cy="1159.2" r="6.6"/><circle cx="647.3" cy="1157.9" r="6.6"/><circle cx="650.8" cy="1157.7" r="6.6"/><circle cx="654.3" cy="1158.0" r="6.6"/><circle cx="657.8" cy="1156.0" r="6.6"/><circle cx="661.3" cy="1157.1" r="6.6"/><circle cx="664.8" cy="1157.5" r="6.6"/><circle cx="668.3" cy="1156.8" r="6.6"/><circle cx="671.8" cy="1158.0" r="6.6"/><circle cx="675.3" cy="1157.7" r="6.6"/><circle cx="678.8" cy="1158.1" r="6.6"/><circle cx="682.3" cy="1158.1" r="6.6"/><circle cx="685.8" cy="1158.9" r="6.6"/><circle cx="689.3" cy="1157.9" r="6.6"/><circle cx="692.8" cy="1157.7" r="6.6"/><circle cx="696.3" cy="1159.1" r="6.6"/><circle cx="699.8" cy="1157.5" r="6.6"/><circle cx="703.3" cy="1159.3" r="6.6"/><circle cx="706.8" cy="1159.5" r="6.6"/><circle cx="710.3" cy="1159.9" r="6.6"/><circle cx="713.8" cy="1158.9" r="6.6"/><circle cx="717.3" cy="1158.1" r="6.6"/><circle cx="720.8" cy="1158.9" r="6.6"/><circle cx="724.3" cy="1158.5" r="6.6"/><circle cx="727.8" cy="1158.9" r="6.6"/><circle cx="731.3" cy="1158.2" r="6.6"/><circle cx="734.8" cy="1158.5" r="6.6"/><circle cx="738.3" cy="1158.9" r="6.6"/><circle cx="741.8" cy="1158.5" r="6.6"/><circle cx="745.3" cy="1159.0" r="6.6"/><circle cx="748.8" cy="1160.0" r="6.6"/><circle cx="752.3" cy="1159.1" r="6.6"/><circle cx="755.8" cy="1157.9" r="6.6"/><circle cx="759.3" cy="1158.9" r="6.6"/><circle cx="762.8" cy="1159.5" r="6.6"/><circle cx="766.3" cy="1159.5" r="6.6"/><circle cx="769.8" cy="1159.9" r="6.6"/><circle cx="773.3" cy="1159.8" r="6.6"/><circle cx="776.8" cy="1158.5" r="6.6"/><circle cx="780.3" cy="1159.1" r="6.6"/><circle cx="783.8" cy="1158.5" r="6.6"/><circle cx="787.3" cy="1159.0" r="6.6"/><circle cx="790.8" cy="1159.6" r="6.6"/><circle cx="794.3" cy="1158.0" r="6.6"/><circle cx="797.8" cy="1156.8" r="6.6"/><circle cx="801.3" cy="1158.2" r="6.6"/><circle cx="804.8" cy="1159.3" r="6.6"/><circle cx="808.3" cy="1158.6" r="6.6"/><circle cx="811.8" cy="1159.4" r="6.6"/><circle cx="815.3" cy="1160.1" r="6.6"/><circle cx="818.8" cy="1158.5" r="6.6"/><circle cx="822.3" cy="1158.4" r="6.6"/><circle cx="825.8" cy="1159.1" r="6.6"/><circle cx="829.3" cy="1157.8" r="6.6"/><circle cx="832.8" cy="1156.8" r="6.6"/><circle cx="836.3" cy="1157.3" r="6.6"/><circle cx="839.8" cy="1158.2" r="6.6"/><circle cx="843.3" cy="1157.4" r="6.6"/><circle cx="846.8" cy="1157.4" r="6.6"/><circle cx="850.3" cy="1157.0" r="6.6"/><circle cx="853.8" cy="1156.8" r="6.6"/><circle cx="857.3" cy="1155.6" r="6.6"/><circle cx="860.8" cy="1157.4" r="6.6"/><circle cx="864.3" cy="1157.6" r="6.6"/><circle cx="867.8" cy="1156.7" r="6.6"/><circle cx="871.3" cy="1158.5" r="6.6"/><circle cx="874.8" cy="1158.1" r="6.6"/><circle cx="878.3" cy="1157.7" r="6.6"/><circle cx="881.8" cy="1158.6" r="6.6"/><circle cx="885.3" cy="1158.0" r="6.6"/><circle cx="888.8" cy="1157.3" r="6.6"/><circle cx="892.3" cy="1156.9" r="6.6"/><circle cx="895.8" cy="1158.2" r="6.6"/><circle cx="899.3" cy="1156.7" r="6.6"/><circle cx="902.8" cy="1157.3" r="6.6"/><circle cx="906.3" cy="1158.2" r="6.6"/><circle cx="909.8" cy="1156.7" r="6.6"/><circle cx="913.3" cy="1156.7" r="6.6"/><circle cx="916.8" cy="1158.4" r="6.6"/><circle cx="920.3" cy="1160.2" r="6.6"/><circle cx="923.8" cy="1158.9" r="6.6"/><circle cx="927.3" cy="1159.4" r="6.6"/><circle cx="930.8" cy="1159.3" r="6.6"/><circle cx="934.3" cy="1159.3" r="6.6"/><circle cx="937.8" cy="1157.2" r="6.6"/><circle cx="941.3" cy="1157.0" r="6.6"/><circle cx="944.8" cy="1157.7" r="6.6"/><circle cx="948.3" cy="1156.4" r="6.6"/><circle cx="951.8" cy="1156.5" r="6.6"/><circle cx="955.3" cy="1157.3" r="6.6"/><circle cx="958.8" cy="1157.7" r="6.6"/><circle cx="962.3" cy="1156.8" r="6.6"/><circle cx="965.8" cy="1157.9" r="6.6"/><circle cx="969.3" cy="1156.8" r="6.6"/><circle cx="972.8" cy="1157.1" r="6.6"/><circle cx="976.3" cy="1156.4" r="6.6"/><circle cx="979.8" cy="1157.8" r="6.6"/><circle cx="983.3" cy="1158.5" r="6.6"/><circle cx="986.8" cy="1158.4" r="6.6"/><circle cx="990.3" cy="1158.6" r="6.6"/><circle cx="993.8" cy="1159.7" r="6.6"/><circle cx="997.3" cy="1158.3" r="6.6"/><circle cx="1000.8" cy="1158.6" r="6.6"/><circle cx="1004.3" cy="1159.0" r="6.6"/><circle cx="1007.8" cy="1159.0" r="6.6"/><circle cx="1011.3" cy="1158.1" r="6.6"/><circle cx="1014.8" cy="1157.7" r="6.6"/><circle cx="1018.3" cy="1158.5" r="6.6"/><circle cx="1021.8" cy="1157.1" r="6.6"/><circle cx="1025.3" cy="1156.1" r="6.6"/><circle cx="1028.8" cy="1156.1" r="6.6"/><circle cx="1032.3" cy="1156.2" r="6.6"/><circle cx="1035.8" cy="1156.6" r="6.6"/><circle cx="1039.3" cy="1157.0" r="6.6"/><circle cx="1042.8" cy="1156.6" r="6.6"/><circle cx="1046.3" cy="1155.2" r="6.6"/><circle cx="1049.8" cy="1156.7" r="6.6"/><circle cx="1053.3" cy="1157.4" r="6.6"/><circle cx="1056.8" cy="1156.8" r="6.6"/><circle cx="1060.3" cy="1157.4" r="6.6"/><circle cx="1063.8" cy="1156.9" r="6.6"/><circle cx="1067.3" cy="1156.4" r="6.6"/><circle cx="1070.8" cy="1156.6" r="6.6"/><circle cx="1074.3" cy="1156.2" r="6.6"/><circle cx="1077.8" cy="1155.4" r="6.6"/><circle cx="1081.3" cy="1154.8" r="6.6"/><circle cx="1084.8" cy="1155.5" r="6.6"/><circle cx="1088.3" cy="1155.5" r="6.6"/><circle cx="1091.8" cy="1157.3" r="6.6"/><circle cx="1095.3" cy="1155.8" r="6.6"/><circle cx="1098.8" cy="1156.4" r="6.6"/><circle cx="1102.3" cy="1155.8" r="6.6"/><circle cx="1105.8" cy="1155.3" r="6.6"/><circle cx="1109.3" cy="1156.0" r="6.6"/><circle cx="1112.8" cy="1155.9" r="6.6"/><circle cx="1116.3" cy="1157.3" r="6.6"/><circle cx="1119.8" cy="1156.2" r="6.6"/><circle cx="1123.3" cy="1156.8" r="6.6"/><circle cx="1126.8" cy="1156.5" r="6.6"/><circle cx="1130.3" cy="1155.3" r="6.6"/><circle cx="1133.8" cy="1155.4" r="6.6"/><circle cx="1137.3" cy="1154.4" r="6.6"/><circle cx="1140.8" cy="1155.4" r="6.6"/><circle cx="1144.3" cy="1155.0" r="6.6"/><circle cx="1147.8" cy="1156.1" r="6.6"/><circle cx="1151.3" cy="1157.0" r="6.6"/><circle cx="1154.8" cy="1156.9" r="6.6"/><circle cx="1158.3" cy="1157.6" r="6.6"/><circle cx="1161.8" cy="1157.2" r="6.6"/><circle cx="1165.3" cy="1156.8" r="6.6"/><circle cx="1168.8" cy="1155.4" r="6.6"/><circle cx="1172.3" cy="1156.5" r="6.6"/><circle cx="1175.8" cy="1155.2" r="6.6"/><circle cx="1179.3" cy="1156.3" r="6.6"/><circle cx="1182.8" cy="1157.0" r="6.6"/><circle cx="1186.3" cy="1158.0" r="6.6"/><circle cx="1189.8" cy="1155.7" r="6.6"/><circle cx="1193.3" cy="1158.2" r="6.6"/><circle cx="1196.8" cy="1156.2" r="6.6"/><circle cx="1200.3" cy="1155.9" r="6.6"/><circle cx="1203.8" cy="1156.9" r="6.6"/><circle cx="1207.3" cy="1157.5" r="6.6"/><circle cx="1210.8" cy="1156.4" r="6.6"/><circle cx="1214.3" cy="1155.8" r="6.6"/><circle cx="1217.8" cy="1156.8" r="6.6"/><circle cx="1221.3" cy="1155.9" r="6.6"/><circle cx="1224.8" cy="1155.7" r="6.6"/><circle cx="1228.3" cy="1155.2" r="6.6"/><circle cx="1231.8" cy="1156.0" r="6.6"/><circle cx="1235.3" cy="1154.9" r="6.6"/><circle cx="1238.8" cy="1155.9" r="6.6"/><circle cx="1242.3" cy="1155.9" r="6.6"/><circle cx="1245.8" cy="1155.7" r="6.6"/><circle cx="1249.3" cy="1155.3" r="6.6"/><circle cx="1252.8" cy="1154.3" r="6.6"/><circle cx="1256.3" cy="1154.4" r="6.6"/><circle cx="1259.8" cy="1154.9" r="6.6"/><circle cx="1263.3" cy="1154.6" r="6.6"/><circle cx="1266.8" cy="1154.9" r="6.6"/><circle cx="1270.3" cy="1155.0" r="6.6"/><circle cx="1273.8" cy="1155.1" r="6.6"/><circle cx="1277.3" cy="1154.6" r="6.6"/><circle cx="1280.8" cy="1156.4" r="6.6"/><circle cx="1284.3" cy="1156.9" r="6.6"/><circle cx="1287.8" cy="1155.5" r="6.6"/><circle cx="1291.3" cy="1156.1" r="6.6"/><circle cx="1294.8" cy="1154.9" r="6.6"/><circle cx="1298.3" cy="1157.2" r="6.6"/><circle cx="1301.8" cy="1155.5" r="6.6"/><circle cx="1305.3" cy="1153.8" r="6.6"/><circle cx="1308.8" cy="1155.2" r="6.6"/><circle cx="1312.3" cy="1154.5" r="6.6"/><circle cx="1315.8" cy="1155.1" r="6.6"/><circle cx="1319.3" cy="1157.1" r="6.6"/><circle cx="1322.8" cy="1156.8" r="6.6"/><circle cx="1326.3" cy="1156.7" r="6.6"/><circle cx="1329.8" cy="1155.3" r="6.6"/><circle cx="1333.3" cy="1155.0" r="6.6"/><circle cx="1336.8" cy="1153.3" r="6.6"/><circle cx="1340.3" cy="1151.5" r="6.6"/><circle cx="1343.8" cy="1154.8" r="6.6"/><circle cx="1347.3" cy="1154.2" r="6.6"/><circle cx="1350.8" cy="1154.8" r="6.6"/><circle cx="1354.3" cy="1154.1" r="6.6"/><circle cx="1357.8" cy="1159.0" r="6.6"/><circle cx="1361.3" cy="1155.0" r="6.6"/><circle cx="1364.8" cy="1154.6" r="6.6"/><circle cx="1368.3" cy="1156.7" r="6.6"/><circle cx="1371.8" cy="1155.3" r="6.6"/><circle cx="1375.3" cy="1154.8" r="6.6"/><circle cx="1378.8" cy="1154.9" r="6.6"/><circle cx="1382.3" cy="1154.7" r="6.6"/><circle cx="1385.8" cy="1154.0" r="6.6"/><circle cx="1389.3" cy="1153.7" r="6.6"/><circle cx="1392.8" cy="1154.4" r="6.6"/><circle cx="1396.3" cy="1153.7" r="6.6"/><circle cx="1399.8" cy="1154.5" r="6.6"/><circle cx="1403.3" cy="1151.4" r="6.6"/><circle cx="1406.8" cy="1151.7" r="6.6"/><circle cx="1410.3" cy="1147.3" r="6.6"/><circle cx="1413.8" cy="1149.6" r="6.6"/><circle cx="1417.3" cy="1145.1" r="6.6"/><circle cx="1420.8" cy="1147.6" r="6.6"/><circle cx="1424.3" cy="1147.5" r="6.6"/><circle cx="1427.8" cy="1146.7" r="6.6"/><circle cx="1431.3" cy="1148.9" r="6.6"/><circle cx="1434.8" cy="1150.6" r="6.6"/><circle cx="1438.3" cy="1149.4" r="6.6"/><circle cx="1441.8" cy="1151.3" r="6.6"/><circle cx="1445.3" cy="1153.4" r="6.6"/><circle cx="1448.8" cy="1150.2" r="6.6"/><circle cx="1452.3" cy="1150.9" r="6.6"/><circle cx="1455.8" cy="1152.1" r="6.6"/><circle cx="1459.3" cy="1150.6" r="6.6"/><circle cx="1462.8" cy="1151.9" r="6.6"/><circle cx="1466.3" cy="1153.5" r="6.6"/><circle cx="1469.8" cy="1151.8" r="6.6"/><circle cx="1473.3" cy="1151.6" r="6.6"/><circle cx="1476.8" cy="1153.8" r="6.6"/><circle cx="1480.3" cy="1152.2" r="6.6"/><circle cx="1483.8" cy="1152.7" r="6.6"/><circle cx="1487.3" cy="1156.2" r="6.6"/><circle cx="1490.8" cy="1156.6" r="6.6"/><circle cx="1494.3" cy="1157.8" r="6.6"/><circle cx="1497.8" cy="1155.7" r="6.6"/><circle cx="1501.3" cy="1158.1" r="6.6"/><circle cx="1504.8" cy="1156.8" r="6.6"/><circle cx="1508.3" cy="1157.5" r="6.6"/><circle cx="1511.8" cy="1153.5" r="6.6"/><circle cx="1515.3" cy="1154.5" r="6.6"/><circle cx="1518.8" cy="1154.6" r="6.6"/><circle cx="1522.3" cy="1155.6" r="6.6"/><circle cx="1525.8" cy="1155.7" r="6.6"/><circle cx="1529.3" cy="1157.5" r="6.6"/><circle cx="1532.8" cy="1157.4" r="6.6"/><circle cx="1536.3" cy="1158.5" r="6.6"/><circle cx="1539.8" cy="1159.4" r="6.6"/><circle cx="1543.3" cy="1159.9" r="6.6"/><circle cx="1546.8" cy="1159.4" r="6.6"/><circle cx="1550.3" cy="1160.3" r="6.6"/><circle cx="1553.8" cy="1159.8" r="6.6"/><circle cx="1557.3" cy="1158.1" r="6.6"/><circle cx="1560.8" cy="1159.3" r="6.6"/><circle cx="1564.3" cy="1157.8" r="6.6"/><circle cx="1564.3" cy="1158.6" r="6.6"/><circle cx="1567.8" cy="1155.9" r="6.6"/><circle cx="1571.3" cy="1153.5" r="6.6"/><circle cx="1574.8" cy="1152.4" r="6.6"/><circle cx="1578.3" cy="1151.3" r="6.6"/><circle cx="1581.8" cy="1149.3" r="6.6"/><circle cx="1585.3" cy="1145.9" r="6.6"/><circle cx="1588.8" cy="1143.0" r="6.6"/><circle cx="1592.3" cy="1140.9" r="6.6"/><circle cx="1595.8" cy="1139.4" r="6.6"/><circle cx="1599.3" cy="1138.1" r="6.6"/><circle cx="1602.8" cy="1137.2" r="6.6"/><circle cx="1606.3" cy="1132.8" r="6.6"/><circle cx="1609.8" cy="1133.8" r="6.6"/><circle cx="1613.3" cy="1134.8" r="6.6"/><circle cx="1630.8" cy="1130.0" r="6.6"/><circle cx="1641.8" cy="1148.8" r="6.6"/><circle cx="1322.5" cy="1119.0" r="6.6"/><circle cx="1445.1" cy="1047.7" r="6.6"/><circle cx="1483.6" cy="1122.6" r="6.6"/><circle cx="1494.3" cy="1104.7" r="6.6"/><circle cx="1501.3" cy="1125.5" r="6.6"/><circle cx="1504.6" cy="1073.6" r="6.6"/><circle cx="1515.3" cy="1093.7" r="6.6"/><circle cx="1550.0" cy="1104.7" r="6.6"/><circle cx="1553.5" cy="1121.0" r="6.6"/><circle cx="1564.0" cy="1084.4" r="6.6"/><circle cx="1566.2" cy="1081.7" r="6.6"/><circle cx="1578.0" cy="1118.1" r="6.6"/><circle cx="1588.6" cy="1056.0" r="6.6"/><circle cx="1605.8" cy="1128.6" r="6.6"/><circle cx="1609.6" cy="1093.7" r="6.6"/><circle cx="1613.5" cy="1130.4" r="6.6"/><circle cx="1616.8" cy="945.1" r="6.6"/><circle cx="1620.1" cy="1087.7" r="6.6"/><circle cx="1623.6" cy="997.4" r="6.6"/><circle cx="1626.6" cy="1120.4" r="6.6"/><circle cx="1630.6" cy="1118.3" r="6.6"/><circle cx="1633.8" cy="1130.4" r="6.6"/><circle cx="1637.5" cy="1087.9" r="6.6"/><circle cx="1641.8" cy="1149.2" r="6.6"/><circle cx="1644.6" cy="1103.4" r="6.6"/><circle cx="1648.1" cy="1085.5" r="6.6"/></g>
<g fill="#ff1493"><circle cx="248.3" cy="1157.8" r="6.6"/><circle cx="251.8" cy="1160.9" r="6.6"/><circle cx="255.3" cy="1162.6" r="6.6"/><circle cx="258.8" cy="1164.7" r="6.6"/><circle cx="262.3" cy="1163.9" r="6.6"/><circle cx="265.8" cy="1166.9" r="6.6"/><circle cx="269.3" cy="1167.4" r="6.6"/><circle cx="272.8" cy="1165.0" r="6.6"/><circle cx="276.3" cy="1166.9" r="6.6"/><circle cx="279.8" cy="1167.3" r="6.6"/><circle cx="283.3" cy="1167.6" r="6.6"/><circle cx="286.8" cy="1168.5" r="6.6"/><circle cx="290.3" cy="1168.6" r="6.6"/><circle cx="293.8" cy="1169.7" r="6.6"/><circle cx="297.3" cy="1169.9" r="6.6"/><circle cx="300.8" cy="1169.5" r="6.6"/><circle cx="304.3" cy="1169.1" r="6.6"/><circle cx="307.8" cy="1169.3" r="6.6"/><circle cx="311.3" cy="1167.5" r="6.6"/><circle cx="314.8" cy="1167.6" r="6.6"/><circle cx="318.3" cy="1166.8" r="6.6"/><circle cx="321.8" cy="1167.1" r="6.6"/><circle cx="325.3" cy="1168.3" r="6.6"/><circle cx="328.8" cy="1168.1" r="6.6"/><circle cx="332.3" cy="1168.3" r="6.6"/><circle cx="335.8" cy="1167.8" r="6.6"/><circle cx="339.3" cy="1167.4" r="6.6"/><circle cx="342.8" cy="1169.0" r="6.6"/><circle cx="346.3" cy="1168.6" r="6.6"/><circle cx="349.8" cy="1169.0" r="6.6"/><circle cx="353.3" cy="1167.6" r="6.6"/><circle cx="356.8" cy="1169.6" r="6.6"/><circle cx="360.3" cy="1169.3" r="6.6"/><circle cx="363.8" cy="1169.4" r="6.6"/><circle cx="367.3" cy="1169.9" r="6.6"/><circle cx="370.8" cy="1170.8" r="6.6"/><circle cx="374.3" cy="1168.7" r="6.6"/><circle cx="377.8" cy="1168.5" r="6.6"/><circle cx="381.3" cy="1167.0" r="6.6"/><circle cx="384.8" cy="1168.2" r="6.6"/><circle cx="388.3" cy="1167.5" r="6.6"/><circle cx="391.8" cy="1168.1" r="6.6"/><circle cx="395.3" cy="1167.6" r="6.6"/><circle cx="398.8" cy="1168.6" r="6.6"/><circle cx="402.3" cy="1168.8" r="6.6"/><circle cx="405.8" cy="1170.7" r="6.6"/><circle cx="409.3" cy="1169.9" r="6.6"/><circle cx="412.8" cy="1168.9" r="6.6"/><circle cx="416.3" cy="1170.8" r="6.6"/><circle cx="419.8" cy="1169.0" r="6.6"/><circle cx="423.3" cy="1170.9" r="6.6"/><circle cx="426.8" cy="1170.5" r="6.6"/><circle cx="430.3" cy="1170.3" r="6.6"/><circle cx="433.8" cy="1168.2" r="6.6"/><circle cx="437.3" cy="1168.5" r="6.6"/><circle cx="440.8" cy="1167.6" r="6.6"/><circle cx="444.3" cy="1169.3" r="6.6"/><circle cx="447.8" cy="1170.1" r="6.6"/><circle cx="451.3" cy="1171.3" r="6.6"/><circle cx="454.8" cy="1170.3" r="6.6"/><circle cx="458.3" cy="1169.5" r="6.6"/><circle cx="461.8" cy="1169.2" r="6.6"/><circle cx="465.3" cy="1169.1" r="6.6"/><circle cx="468.8" cy="1168.6" r="6.6"/><circle cx="472.3" cy="1169.6" r="6.6"/><circle cx="475.8" cy="1168.9" r="6.6"/><circle cx="479.3" cy="1169.2" r="6.6"/><circle cx="482.8" cy="1170.2" r="6.6"/><circle cx="486.3" cy="1167.8" r="6.6"/><circle cx="489.8" cy="1168.7" r="6.6"/><circle cx="493.3" cy="1169.8" r="6.6"/><circle cx="496.8" cy="1169.1" r="6.6"/><circle cx="500.3" cy="1169.0" r="6.6"/><circle cx="503.8" cy="1169.1" r="6.6"/><circle cx="507.3" cy="1168.4" r="6.6"/><circle cx="510.8" cy="1171.9" r="6.6"/><circle cx="514.3" cy="1168.3" r="6.6"/><circle cx="517.8" cy="1167.1" r="6.6"/><circle cx="521.3" cy="1169.0" r="6.6"/><circle cx="524.8" cy="1170.4" r="6.6"/><circle cx="528.3" cy="1168.3" r="6.6"/><circle cx="531.8" cy="1169.1" r="6.6"/><circle cx="535.3" cy="1170.6" r="6.6"/><circle cx="538.8" cy="1171.6" r="6.6"/><circle cx="542.3" cy="1171.3" r="6.6"/><circle cx="545.8" cy="1170.7" r="6.6"/><circle cx="549.3" cy="1169.9" r="6.6"/><circle cx="552.8" cy="1167.6" r="6.6"/><circle cx="556.3" cy="1169.5" r="6.6"/><circle cx="559.8" cy="1169.0" r="6.6"/><circle cx="563.3" cy="1170.1" r="6.6"/><circle cx="566.8" cy="1168.3" r="6.6"/><circle cx="570.3" cy="1169.4" r="6.6"/><circle cx="573.8" cy="1168.2" r="6.6"/><circle cx="577.3" cy="1169.5" r="6.6"/><circle cx="580.8" cy="1168.6" r="6.6"/><circle cx="584.3" cy="1170.4" r="6.6"/><circle cx="587.8" cy="1168.8" r="6.6"/><circle cx="591.3" cy="1170.2" r="6.6"/><circle cx="594.8" cy="1169.4" r="6.6"/><circle cx="598.3" cy="1169.0" r="6.6"/><circle cx="601.8" cy="1169.5" r="6.6"/><circle cx="605.3" cy="1170.5" r="6.6"/><circle cx="608.8" cy="1169.5" r="6.6"/><circle cx="612.3" cy="1172.0" r="6.6"/><circle cx="615.8" cy="1170.4" r="6.6"/><circle cx="619.3" cy="1171.2" r="6.6"/><circle cx="622.8" cy="1169.7" r="6.6"/><circle cx="626.3" cy="1170.9" r="6.6"/><circle cx="629.8" cy="1169.1" r="6.6"/><circle cx="633.3" cy="1169.8" r="6.6"/><circle cx="636.8" cy="1170.4" r="6.6"/><circle cx="640.3" cy="1170.7" r="6.6"/><circle cx="643.8" cy="1169.7" r="6.6"/><circle cx="647.3" cy="1169.3" r="6.6"/><circle cx="650.8" cy="1169.1" r="6.6"/><circle cx="654.3" cy="1168.2" r="6.6"/><circle cx="657.8" cy="1168.1" r="6.6"/><circle cx="661.3" cy="1169.5" r="6.6"/><circle cx="664.8" cy="1168.5" r="6.6"/><circle cx="668.3" cy="1168.7" r="6.6"/><circle cx="671.8" cy="1170.6" r="6.6"/><circle cx="675.3" cy="1170.6" r="6.6"/><circle cx="678.8" cy="1172.4" r="6.6"/><circle cx="682.3" cy="1171.5" r="6.6"/><circle cx="685.8" cy="1173.2" r="6.6"/><circle cx="689.3" cy="1171.9" r="6.6"/><circle cx="692.8" cy="1171.2" r="6.6"/><circle cx="696.3" cy="1171.2" r="6.6"/><circle cx="699.8" cy="1170.0" r="6.6"/><circle cx="703.3" cy="1169.9" r="6.6"/><circle cx="706.8" cy="1171.0" r="6.6"/><circle cx="710.3" cy="1170.2" r="6.6"/><circle cx="713.8" cy="1170.7" r="6.6"/><circle cx="717.3" cy="1172.4" r="6.6"/><circle cx="720.8" cy="1171.4" r="6.6"/><circle cx="724.3" cy="1169.8" r="6.6"/><circle cx="727.8" cy="1170.8" r="6.6"/><circle cx="731.3" cy="1171.4" r="6.6"/><circle cx="734.8" cy="1168.6" r="6.6"/><circle cx="738.3" cy="1168.0" r="6.6"/><circle cx="741.8" cy="1169.7" r="6.6"/><circle cx="745.3" cy="1170.0" r="6.6"/><circle cx="748.8" cy="1168.9" r="6.6"/><circle cx="752.3" cy="1167.8" r="6.6"/><circle cx="755.8" cy="1170.1" r="6.6"/><circle cx="759.3" cy="1170.0" r="6.6"/><circle cx="762.8" cy="1170.5" r="6.6"/><circle cx="766.3" cy="1172.0" r="6.6"/><circle cx="769.8" cy="1171.6" r="6.6"/><circle cx="773.3" cy="1170.7" r="6.6"/><circle cx="776.8" cy="1169.4" r="6.6"/><circle cx="780.3" cy="1169.7" r="6.6"/><circle cx="783.8" cy="1168.5" r="6.6"/><circle cx="787.3" cy="1169.3" r="6.6"/><circle cx="790.8" cy="1169.6" r="6.6"/><circle cx="794.3" cy="1169.9" r="6.6"/><circle cx="797.8" cy="1170.0" r="6.6"/><circle cx="801.3" cy="1169.4" r="6.6"/><circle cx="804.8" cy="1170.5" r="6.6"/><circle cx="808.3" cy="1169.1" r="6.6"/><circle cx="811.8" cy="1168.1" r="6.6"/><circle cx="815.3" cy="1168.8" r="6.6"/><circle cx="818.8" cy="1167.2" r="6.6"/><circle cx="822.3" cy="1168.0" r="6.6"/><circle cx="825.8" cy="1167.7" r="6.6"/><circle cx="829.3" cy="1168.5" r="6.6"/><circle cx="832.8" cy="1168.6" r="6.6"/><circle cx="836.3" cy="1168.3" r="6.6"/><circle cx="839.8" cy="1167.7" r="6.6"/><circle cx="843.3" cy="1169.9" r="6.6"/><circle cx="846.8" cy="1169.5" r="6.6"/><circle cx="850.3" cy="1168.6" r="6.6"/><circle cx="853.8" cy="1169.7" r="6.6"/><circle cx="857.3" cy="1168.9" r="6.6"/><circle cx="860.8" cy="1167.8" r="6.6"/><circle cx="864.3" cy="1167.7" r="6.6"/><circle cx="867.8" cy="1167.3" r="6.6"/><circle cx="871.3" cy="1170.2" r="6.6"/><circle cx="874.8" cy="1167.6" r="6.6"/><circle cx="878.3" cy="1169.3" r="6.6"/><circle cx="881.8" cy="1170.0" r="6.6"/><circle cx="885.3" cy="1168.5" r="6.6"/><circle cx="888.8" cy="1169.5" r="6.6"/><circle cx="892.3" cy="1168.2" r="6.6"/><circle cx="895.8" cy="1169.2" r="6.6"/><circle cx="899.3" cy="1168.9" r="6.6"/><circle cx="902.8" cy="1168.4" r="6.6"/><circle cx="906.3" cy="1167.5" r="6.6"/><circle cx="909.8" cy="1168.0" r="6.6"/><circle cx="913.3" cy="1167.9" r="6.6"/><circle cx="916.8" cy="1168.8" r="6.6"/><circle cx="920.3" cy="1168.4" r="6.6"/><circle cx="923.8" cy="1168.3" r="6.6"/><circle cx="927.3" cy="1169.1" r="6.6"/><circle cx="930.8" cy="1167.4" r="6.6"/><circle cx="934.3" cy="1168.2" r="6.6"/><circle cx="937.8" cy="1169.0" r="6.6"/><circle cx="941.3" cy="1168.6" r="6.6"/><circle cx="944.8" cy="1169.0" r="6.6"/><circle cx="948.3" cy="1169.1" r="6.6"/><circle cx="951.8" cy="1169.5" r="6.6"/><circle cx="955.3" cy="1168.3" r="6.6"/><circle cx="958.8" cy="1168.5" r="6.6"/><circle cx="962.3" cy="1169.1" r="6.6"/><circle cx="965.8" cy="1169.2" r="6.6"/><circle cx="969.3" cy="1168.7" r="6.6"/><circle cx="972.8" cy="1169.5" r="6.6"/><circle cx="976.3" cy="1169.2" r="6.6"/><circle cx="979.8" cy="1166.8" r="6.6"/><circle cx="983.3" cy="1167.3" r="6.6"/><circle cx="986.8" cy="1167.4" r="6.6"/><circle cx="990.3" cy="1166.2" r="6.6"/><circle cx="993.8" cy="1168.0" r="6.6"/><circle cx="997.3" cy="1168.9" r="6.6"/><circle cx="1000.8" cy="1169.8" r="6.6"/><circle cx="1004.3" cy="1169.6" r="6.6"/><circle cx="1007.8" cy="1167.8" r="6.6"/><circle cx="1011.3" cy="1167.3" r="6.6"/><circle cx="1014.8" cy="1167.2" r="6.6"/><circle cx="1018.3" cy="1167.6" r="6.6"/><circle cx="1021.8" cy="1166.9" r="6.6"/><circle cx="1025.3" cy="1167.6" r="6.6"/><circle cx="1028.8" cy="1167.0" r="6.6"/><circle cx="1032.3" cy="1165.7" r="6.6"/><circle cx="1035.8" cy="1166.7" r="6.6"/><circle cx="1039.3" cy="1166.2" r="6.6"/><circle cx="1042.8" cy="1167.9" r="6.6"/><circle cx="1046.3" cy="1168.2" r="6.6"/><circle cx="1049.8" cy="1167.6" r="6.6"/><circle cx="1053.3" cy="1168.9" r="6.6"/><circle cx="1056.8" cy="1166.4" r="6.6"/><circle cx="1060.3" cy="1168.0" r="6.6"/><circle cx="1063.8" cy="1168.1" r="6.6"/><circle cx="1067.3" cy="1168.2" r="6.6"/><circle cx="1070.8" cy="1167.7" r="6.6"/><circle cx="1074.3" cy="1168.5" r="6.6"/><circle cx="1077.8" cy="1168.0" r="6.6"/><circle cx="1081.3" cy="1166.2" r="6.6"/><circle cx="1084.8" cy="1166.7" r="6.6"/><circle cx="1088.3" cy="1165.8" r="6.6"/><circle cx="1091.8" cy="1168.4" r="6.6"/><circle cx="1095.3" cy="1167.7" r="6.6"/><circle cx="1098.8" cy="1167.6" r="6.6"/><circle cx="1102.3" cy="1166.0" r="6.6"/><circle cx="1105.8" cy="1168.3" r="6.6"/><circle cx="1109.3" cy="1167.6" r="6.6"/><circle cx="1112.8" cy="1166.8" r="6.6"/><circle cx="1116.3" cy="1167.3" r="6.6"/><circle cx="1119.8" cy="1166.6" r="6.6"/><circle cx="1123.3" cy="1166.7" r="6.6"/><circle cx="1126.8" cy="1162.8" r="6.6"/><circle cx="1130.3" cy="1167.0" r="6.6"/><circle cx="1133.8" cy="1162.4" r="6.6"/><circle cx="1137.3" cy="1170.7" r="6.6"/><circle cx="1140.8" cy="1167.2" r="6.6"/><circle cx="1144.3" cy="1168.6" r="6.6"/><circle cx="1147.8" cy="1167.1" r="6.6"/><circle cx="1151.3" cy="1164.6" r="6.6"/><circle cx="1154.8" cy="1162.2" r="6.6"/><circle cx="1158.3" cy="1163.6" r="6.6"/><circle cx="1161.8" cy="1160.9" r="6.6"/><circle cx="1165.3" cy="1165.1" r="6.6"/><circle cx="1168.8" cy="1164.3" r="6.6"/><circle cx="1172.3" cy="1162.9" r="6.6"/><circle cx="1175.8" cy="1164.8" r="6.6"/><circle cx="1179.3" cy="1168.0" r="6.6"/><circle cx="1182.8" cy="1164.3" r="6.6"/><circle cx="1186.3" cy="1166.8" r="6.6"/><circle cx="1189.8" cy="1163.0" r="6.6"/><circle cx="1193.3" cy="1162.6" r="6.6"/><circle cx="1196.8" cy="1165.4" r="6.6"/><circle cx="1200.3" cy="1163.1" r="6.6"/><circle cx="1203.8" cy="1166.4" r="6.6"/><circle cx="1207.3" cy="1161.0" r="6.6"/><circle cx="1210.8" cy="1163.7" r="6.6"/><circle cx="1214.3" cy="1165.0" r="6.6"/><circle cx="1217.8" cy="1167.9" r="6.6"/><circle cx="1221.3" cy="1167.8" r="6.6"/><circle cx="1224.8" cy="1173.2" r="6.6"/><circle cx="1228.3" cy="1168.3" r="6.6"/><circle cx="1231.8" cy="1170.8" r="6.6"/><circle cx="1235.3" cy="1165.9" r="6.6"/><circle cx="1238.8" cy="1169.5" r="6.6"/><circle cx="1242.3" cy="1172.1" r="6.6"/><circle cx="1245.8" cy="1167.7" r="6.6"/><circle cx="1249.3" cy="1168.8" r="6.6"/><circle cx="1252.8" cy="1170.5" r="6.6"/><circle cx="1256.3" cy="1163.5" r="6.6"/><circle cx="1259.8" cy="1165.9" r="6.6"/><circle cx="1263.3" cy="1167.2" r="6.6"/><circle cx="1266.8" cy="1168.1" r="6.6"/><circle cx="1270.3" cy="1171.1" r="6.6"/><circle cx="1273.8" cy="1167.0" r="6.6"/><circle cx="1277.3" cy="1165.8" r="6.6"/><circle cx="1280.8" cy="1167.6" r="6.6"/><circle cx="1284.3" cy="1169.5" r="6.6"/><circle cx="1287.8" cy="1168.0" r="6.6"/><circle cx="1291.3" cy="1169.0" r="6.6"/><circle cx="1294.8" cy="1166.1" r="6.6"/><circle cx="1298.3" cy="1164.8" r="6.6"/><circle cx="1301.8" cy="1161.5" r="6.6"/><circle cx="1305.3" cy="1161.6" r="6.6"/><circle cx="1308.8" cy="1163.3" r="6.6"/><circle cx="1312.3" cy="1163.7" r="6.6"/><circle cx="1315.8" cy="1164.7" r="6.6"/><circle cx="1319.3" cy="1167.5" r="6.6"/><circle cx="1322.8" cy="1168.8" r="6.6"/><circle cx="1326.3" cy="1167.6" r="6.6"/><circle cx="1329.8" cy="1168.4" r="6.6"/><circle cx="1333.3" cy="1168.2" r="6.6"/><circle cx="1336.8" cy="1168.7" r="6.6"/><circle cx="1340.3" cy="1169.5" r="6.6"/><circle cx="1343.8" cy="1170.1" r="6.6"/><circle cx="1347.3" cy="1169.7" r="6.6"/><circle cx="1350.8" cy="1167.1" r="6.6"/><circle cx="1354.3" cy="1165.4" r="6.6"/><circle cx="1357.8" cy="1164.0" r="6.6"/><circle cx="1361.3" cy="1163.6" r="6.6"/><circle cx="1364.8" cy="1161.2" r="6.6"/><circle cx="1368.3" cy="1166.1" r="6.6"/><circle cx="1371.8" cy="1164.8" r="6.6"/><circle cx="1375.3" cy="1159.4" r="6.6"/><circle cx="1378.8" cy="1163.6" r="6.6"/><circle cx="1382.3" cy="1163.7" r="6.6"/><circle cx="1385.8" cy="1165.0" r="6.6"/><circle cx="1389.3" cy="1165.3" r="6.6"/><circle cx="1392.8" cy="1168.7" r="6.6"/><circle cx="1396.3" cy="1167.9" r="6.6"/><circle cx="1399.8" cy="1165.4" r="6.6"/><circle cx="1403.3" cy="1164.7" r="6.6"/><circle cx="1406.8" cy="1162.7" r="6.6"/><circle cx="1410.3" cy="1165.2" r="6.6"/><circle cx="1413.8" cy="1165.6" r="6.6"/><circle cx="1417.3" cy="1168.0" r="6.6"/><circle cx="1420.8" cy="1168.4" r="6.6"/><circle cx="1424.3" cy="1167.6" r="6.6"/><circle cx="1427.8" cy="1165.0" r="6.6"/><circle cx="1431.3" cy="1166.8" r="6.6"/><circle cx="1434.8" cy="1163.7" r="6.6"/><circle cx="1438.3" cy="1164.9" r="6.6"/><circle cx="1441.8" cy="1162.6" r="6.6"/><circle cx="1445.3" cy="1162.2" r="6.6"/><circle cx="1448.8" cy="1163.2" r="6.6"/><circle cx="1452.3" cy="1166.0" r="6.6"/><circle cx="1455.8" cy="1163.4" r="6.6"/><circle cx="1459.3" cy="1166.0" r="6.6"/><circle cx="1462.8" cy="1165.9" r="6.6"/><circle cx="1466.3" cy="1167.9" r="6.6"/><circle cx="1469.8" cy="1166.6" r="6.6"/><circle cx="1473.3" cy="1169.5" r="6.6"/><circle cx="1476.8" cy="1166.5" r="6.6"/><circle cx="1480.3" cy="1167.2" r="6.6"/><circle cx="1483.8" cy="1166.9" r="6.6"/><circle cx="1487.3" cy="1167.6" r="6.6"/><circle cx="1490.8" cy="1164.4" r="6.6"/><circle cx="1494.3" cy="1164.5" r="6.6"/><circle cx="1497.8" cy="1164.4" r="6.6"/><circle cx="1501.3" cy="1168.0" r="6.6"/><circle cx="1504.8" cy="1164.4" r="6.6"/><circle cx="1508.3" cy="1163.6" r="6.6"/><circle cx="1511.8" cy="1168.9" r="6.6"/><circle cx="1515.3" cy="1163.8" r="6.6"/><circle cx="1518.8" cy="1164.4" r="6.6"/><circle cx="1522.3" cy="1166.5" r="6.6"/><circle cx="1525.8" cy="1169.3" r="6.6"/><circle cx="1529.3" cy="1169.0" r="6.6"/><circle cx="1532.8" cy="1172.1" r="6.6"/><circle cx="1536.3" cy="1171.0" r="6.6"/><circle cx="1539.8" cy="1168.6" r="6.6"/><circle cx="1543.3" cy="1167.1" r="6.6"/><circle cx="1546.8" cy="1168.2" r="6.6"/><circle cx="1550.3" cy="1166.2" r="6.6"/><circle cx="1553.8" cy="1166.8" r="6.6"/><circle cx="1557.3" cy="1167.9" r="6.6"/><circle cx="1560.8" cy="1164.8" r="6.6"/><circle cx="1564.3" cy="1165.1" r="6.6"/><circle cx="1567.8" cy="1168.8" r="6.6"/><circle cx="1571.3" cy="1167.7" r="6.6"/><circle cx="1574.8" cy="1168.8" r="6.6"/><circle cx="1578.3" cy="1169.5" r="6.6"/><circle cx="1581.8" cy="1167.6" r="6.6"/><circle cx="1585.3" cy="1166.4" r="6.6"/><circle cx="1588.8" cy="1167.6" r="6.6"/><circle cx="1592.3" cy="1170.9" r="6.6"/><circle cx="1595.8" cy="1169.2" r="6.6"/><circle cx="1186.1" cy="1157.3" r="6.6"/><circle cx="1235.1" cy="1160.6" r="6.6"/><circle cx="1256.1" cy="1157.3" r="6.6"/><circle cx="1277.1" cy="1142.3" r="6.6"/><circle cx="1280.6" cy="1155.5" r="6.6"/><circle cx="1298.1" cy="1151.9" r="6.6"/><circle cx="1319.1" cy="1154.6" r="6.6"/><circle cx="1350.5" cy="1155.5" r="6.6"/><circle cx="1375.0" cy="1151.9" r="6.6"/><circle cx="1511.6" cy="1140.0" r="6.6"/><circle cx="1541.7" cy="1168.2" r="6.6"/><circle cx="1543.0" cy="1126.8" r="6.6"/><circle cx="1547.1" cy="1173.6" r="6.6"/><circle cx="1552.6" cy="1168.2" r="6.6"/><circle cx="1557.1" cy="1174.5" r="6.6"/><circle cx="1562.5" cy="1167.3" r="6.6"/><circle cx="1569.7" cy="1170.9" r="6.6"/><circle cx="1574.5" cy="1096.4" r="6.6"/><circle cx="1576.0" cy="1164.6" r="6.6"/><circle cx="1580.6" cy="1172.7" r="6.6"/><circle cx="1586.9" cy="1170.9" r="6.6"/><circle cx="1592.3" cy="1165.5" r="6.6"/><circle cx="1595.5" cy="1149.6" r="6.6"/><circle cx="1598.6" cy="1178.0" r="6.6"/><circle cx="1603.1" cy="1174.5" r="6.6"/><circle cx="1606.1" cy="1081.0" r="6.6"/><circle cx="1608.6" cy="1170.0" r="6.6"/><circle cx="1613.5" cy="1166.2" r="6.6"/><circle cx="1616.5" cy="1053.3" r="6.6"/><circle cx="1616.6" cy="1157.5" r="6.6"/><circle cx="1619.8" cy="1155.0" r="6.6"/><circle cx="1626.6" cy="1154.6" r="6.6"/><circle cx="1630.6" cy="1046.8" r="6.6"/><circle cx="1632.0" cy="1155.0" r="6.6"/><circle cx="1637.5" cy="1169.1" r="6.6"/><circle cx="1637.5" cy="1155.5" r="6.6"/><circle cx="1641.3" cy="1072.7" r="6.6"/><circle cx="1644.6" cy="1142.3" r="6.6"/><circle cx="1648.1" cy="1174.7" r="6.6"/></g>
<text x="248.3" y="1305" font-size="85.5" fill="#262626" text-anchor="middle">0</text>
<text x="598.3" y="1305" font-size="85.5" fill="#262626" text-anchor="middle">20</text>
<text x="948.3" y="1305" font-size="85.5" fill="#262626" text-anchor="middle">40</text>
<text x="1298.3" y="1305" font-size="85.5" fill="#262626" text-anchor="middle">60</text>
<text x="1648.3" y="1305" font-size="85.5" fill="#262626" text-anchor="middle">80</text>
<text x="218" y="1228.0" font-size="85.5" fill="#262626" text-anchor="end">0</text>
<text x="218" y="1004.4" font-size="85.5" fill="#262626" text-anchor="end">10</text>
<text x="218" y="780.8" font-size="85.5" fill="#262626" text-anchor="end">20</text>
<text x="218" y="557.2" font-size="85.5" fill="#262626" text-anchor="end">30</text>
<text x="218" y="333.6" font-size="85.5" fill="#262626" text-anchor="end">40</text>
<text x="218" y="110.0" font-size="85.5" fill="#262626" text-anchor="end">50</text>
<text transform="translate(948.3 1404.7) scale(0.998 1.04)" x="0" y="0" font-size="83.4" fill="#262626" text-anchor="middle">Angle (deg)</text>
<text transform="translate(94.9 638.5) rotate(-90) scale(1 1.024)" x="0" y="0" font-size="83.4" fill="#262626" text-anchor="middle">The RMSE of DOA estimation (deg)</text>
<rect x="300.1" y="132.6" width="635.9" height="597.3" fill="#fff"/>
<g stroke="#262626" fill="none"><path d="M300.1 129.1V733.5" stroke-width="7.4"/><path d="M296.40000000000003 132.6H938.0" stroke-width="7"/><path d="M296.40000000000003 729.9H938.0" stroke-width="7.3"/><path d="M936.0 129.1V733.5" stroke-width="4"/></g>
<circle cx="435.3" cy="190.1" r="6.9" fill="#0000ff"/>
<text transform="translate(564.6 220.9) scale(0.993 1.02)" x="0" y="0" font-size="84.3" fill="#000">OMP</text>
<circle cx="435.3" cy="286.8" r="6.9" fill="#ff0000"/>
<text transform="translate(564.6 316.9) scale(0.993 1.02)" x="0" y="0" font-size="84.3" fill="#000">SBL</text>
<circle cx="435.3" cy="382.7" r="6.9" fill="#77ac30"/>
<text transform="translate(564.6 412.9) scale(0.993 1.02)" x="0" y="0" font-size="84.3" fill="#000">DA-MSIC</text>
<circle cx="435.3" cy="479.4" r="6.9" fill="#4dbeee"/>
<text transform="translate(564.6 509.2) scale(0.993 1.02)" x="0" y="0" font-size="84.3" fill="#000">Subspace</text>
<circle cx="435.3" cy="575.7" r="6.9" fill="#7e2f8e"/>
<text transform="translate(564.6 604.9) scale(0.993 1.02)" x="0" y="0" font-size="84.3" fill="#000">DCN</text>
<circle cx="435.3" cy="671.6" r="6.9" fill="#ff1493"/>
<text transform="translate(564.6 701.2) scale(0.993 1.02)" x="0" y="0" font-size="84.3" fill="#000">Proposed</text>
</svg></body></html>
